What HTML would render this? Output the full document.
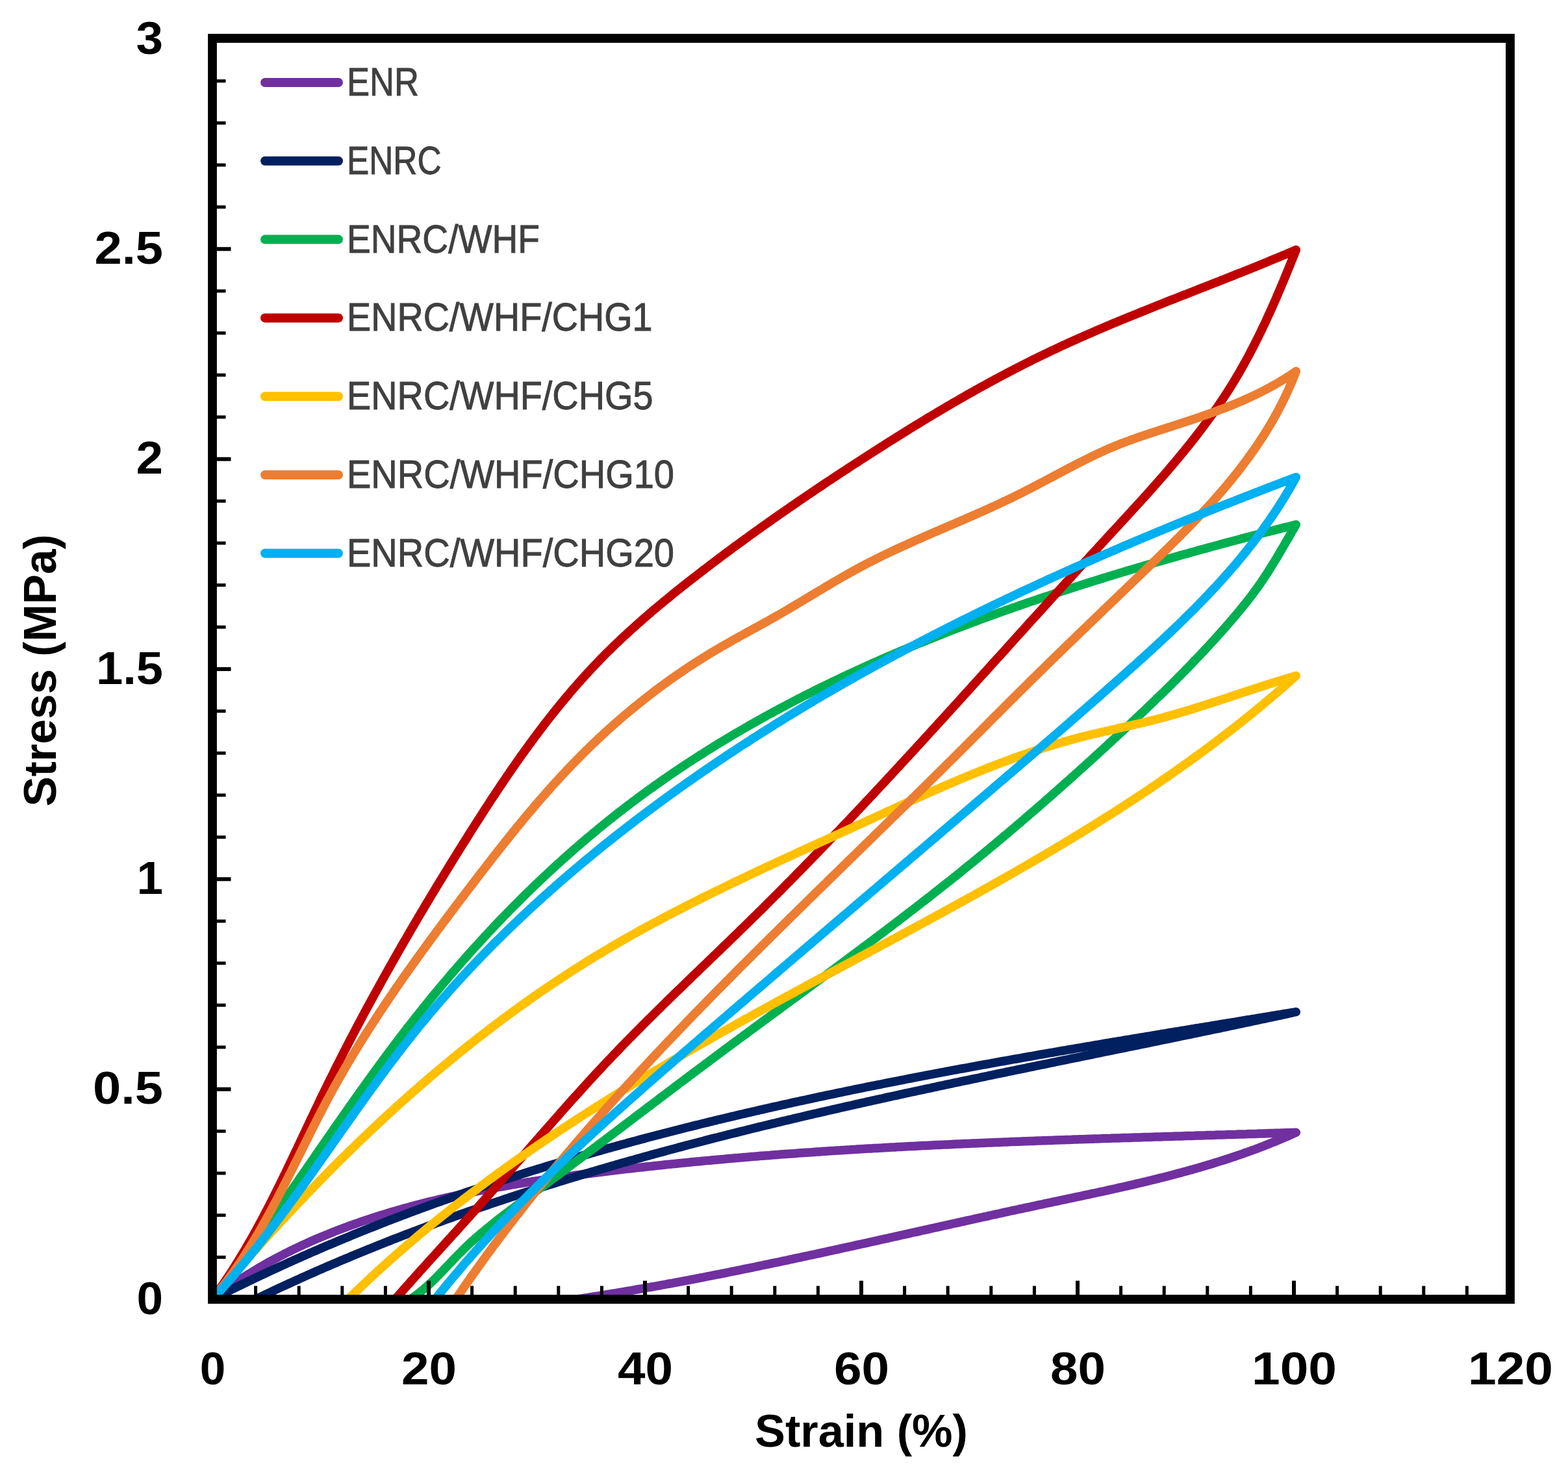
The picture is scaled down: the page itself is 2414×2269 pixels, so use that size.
<!DOCTYPE html>
<html><head><meta charset="utf-8"><title>Stress-strain</title>
<style>html,body{margin:0;padding:0;background:#fff;}svg{display:block;}</style>
</head><body>
<svg xmlns="http://www.w3.org/2000/svg" width="2414" height="2269" viewBox="0 0 2414 2269"><rect width="2414" height="2269" fill="#fff"/><defs><clipPath id="pc"><rect x="327" y="60" width="1998" height="1940"/></clipPath></defs><g clip-path="url(#pc)" fill="none" stroke-width="13.5" stroke-linejoin="round" stroke-linecap="round"><path d="M327.0,2000.0 L330.2,1997.5 L333.4,1995.1 L336.7,1992.6 L339.9,1990.2 L343.2,1987.9 L346.5,1985.5 L349.8,1983.2 L353.1,1980.9 L356.4,1978.6 L359.7,1976.3 L363.0,1974.0 L366.4,1971.8 L369.7,1969.6 L373.1,1967.4 L376.5,1965.3 L379.8,1963.1 L383.2,1961.0 L386.6,1958.9 L390.1,1956.8 L393.5,1954.8 L396.9,1952.7 L400.4,1950.7 L403.8,1948.7 L407.3,1946.7 L410.7,1944.7 L414.2,1942.8 L417.7,1940.9 L421.2,1939.0 L424.7,1937.1 L428.2,1935.2 L431.7,1933.4 L435.3,1931.6 L438.8,1929.7 L442.4,1928.0 L445.9,1926.2 L449.5,1924.4 L453.1,1922.7 L456.6,1921.0 L460.2,1919.3 L463.8,1917.6 L467.4,1915.9 L471.0,1914.3 L474.7,1912.6 L478.3,1911.0 L481.9,1909.4 L485.6,1907.8 L489.2,1906.3 L492.9,1904.7 L496.5,1903.2 L500.2,1901.7 L503.9,1900.2 L507.6,1898.7 L511.2,1897.2 L514.9,1895.7 L518.6,1894.3 L522.4,1892.9 L526.1,1891.5 L529.8,1890.1 L533.5,1888.7 L537.2,1887.3 L541.0,1886.0 L544.7,1884.6 L548.5,1883.3 L552.2,1882.0 L556.0,1880.7 L559.8,1879.4 L563.5,1878.1 L567.3,1876.9 L571.1,1875.6 L574.9,1874.4 L578.7,1873.2 L582.5,1872.0 L586.3,1870.8 L590.1,1869.6 L593.9,1868.4 L597.7,1867.3 L601.5,1866.1 L605.3,1865.0 L609.2,1863.9 L613.0,1862.8 L616.8,1861.7 L620.7,1860.6 L624.5,1859.5 L628.4,1858.5 L632.2,1857.4 L636.1,1856.4 L639.9,1855.4 L643.8,1854.4 L647.7,1853.4 L651.5,1852.4 L655.4,1851.4 L659.3,1850.4 L663.2,1849.4 L667.1,1848.5 L671.0,1847.6 L674.9,1846.6 L678.8,1845.7 L682.7,1844.8 L686.6,1843.9 L690.5,1843.0 L694.4,1842.1 L698.3,1841.3 L702.2,1840.4 L706.1,1839.6 L710.1,1838.7 L714.0,1837.9 L717.9,1837.1 L721.9,1836.3 L725.8,1835.5 L729.7,1834.7 L733.7,1833.9 L737.6,1833.1 L741.6,1832.3 L745.5,1831.6 L749.5,1830.8 L753.4,1830.1 L757.4,1829.3 L761.3,1828.6 L765.3,1827.9 L769.3,1827.2 L773.2,1826.5 L777.2,1825.8 L781.2,1825.1 L785.1,1824.4 L789.1,1823.7 L793.1,1823.0 L797.1,1822.4 L801.0,1821.7 L805.0,1821.1 L809.0,1820.4 L813.0,1819.8 L817.0,1819.2 L821.0,1818.5 L825.0,1817.9 L828.9,1817.3 L832.9,1816.7 L836.9,1816.1 L840.9,1815.5 L844.9,1814.9 L848.9,1814.3 L852.9,1813.8 L856.9,1813.2 L860.9,1812.6 L864.9,1812.1 L868.9,1811.5 L872.9,1811.0 L876.9,1810.4 L880.9,1809.9 L884.9,1809.3 L888.9,1808.8 L892.9,1808.3 L896.9,1807.8 L900.9,1807.2 L904.9,1806.7 L908.9,1806.2 L912.9,1805.7 L916.9,1805.2 L921.0,1804.7 L925.0,1804.2 L929.0,1803.7 L933.0,1803.2 L937.0,1802.7 L941.0,1802.3 L945.0,1801.8 L949.0,1801.3 L953.0,1800.8 L957.0,1800.4 L961.0,1799.9 L965.0,1799.4 L969.0,1799.0 L973.0,1798.5 L977.0,1798.0 L981.0,1797.6 L985.0,1797.1 L989.0,1796.7 L993.0,1796.3 L997.1,1795.8 L1001.1,1795.4 L1005.1,1795.0 L1009.1,1794.5 L1013.1,1794.1 L1017.1,1793.7 L1021.1,1793.3 L1025.1,1792.8 L1029.1,1792.4 L1033.1,1792.0 L1037.1,1791.6 L1041.1,1791.2 L1045.1,1790.8 L1049.1,1790.4 L1053.1,1790.0 L1057.1,1789.6 L1061.1,1789.2 L1065.1,1788.8 L1069.1,1788.4 L1073.1,1788.0 L1077.1,1787.7 L1081.1,1787.3 L1085.1,1786.9 L1089.1,1786.5 L1093.1,1786.2 L1097.2,1785.8 L1101.2,1785.4 L1105.2,1785.1 L1109.2,1784.7 L1113.2,1784.4 L1117.2,1784.0 L1121.2,1783.6 L1125.2,1783.3 L1129.2,1782.9 L1133.2,1782.6 L1137.2,1782.3 L1141.2,1781.9 L1145.2,1781.6 L1149.2,1781.3 L1153.2,1780.9 L1157.2,1780.6 L1161.2,1780.3 L1165.2,1779.9 L1169.2,1779.6 L1173.2,1779.3 L1177.2,1779.0 L1181.2,1778.7 L1185.2,1778.4 L1189.2,1778.0 L1193.2,1777.7 L1197.2,1777.4 L1201.2,1777.1 L1205.2,1776.8 L1209.2,1776.5 L1213.2,1776.2 L1217.2,1775.9 L1221.2,1775.7 L1225.2,1775.4 L1229.3,1775.1 L1233.3,1774.8 L1237.3,1774.5 L1241.3,1774.2 L1245.3,1773.9 L1249.3,1773.7 L1253.3,1773.4 L1257.3,1773.1 L1261.3,1772.9 L1265.3,1772.6 L1269.3,1772.3 L1273.3,1772.1 L1277.3,1771.8 L1281.3,1771.5 L1285.3,1771.3 L1289.3,1771.0 L1293.3,1770.8 L1297.3,1770.5 L1301.3,1770.3 L1305.3,1770.0 L1309.3,1769.8 L1313.3,1769.5 L1317.3,1769.3 L1321.3,1769.0 L1325.3,1768.8 L1329.3,1768.6 L1333.3,1768.3 L1337.3,1768.1 L1341.3,1767.9 L1345.3,1767.6 L1349.4,1767.4 L1353.4,1767.2 L1357.4,1767.0 L1361.4,1766.7 L1365.4,1766.5 L1369.4,1766.3 L1373.4,1766.1 L1377.4,1765.9 L1381.4,1765.6 L1385.4,1765.4 L1389.4,1765.2 L1393.4,1765.0 L1397.4,1764.8 L1401.4,1764.6 L1405.4,1764.4 L1409.4,1764.2 L1413.4,1764.0 L1417.4,1763.8 L1421.4,1763.6 L1425.4,1763.4 L1429.4,1763.2 L1433.4,1763.0 L1437.4,1762.8 L1441.4,1762.6 L1445.5,1762.4 L1449.5,1762.2 L1453.5,1762.1 L1457.5,1761.9 L1461.5,1761.7 L1465.5,1761.5 L1469.5,1761.3 L1473.5,1761.1 L1477.5,1761.0 L1481.5,1760.8 L1485.5,1760.6 L1489.5,1760.4 L1493.5,1760.3 L1497.5,1760.1 L1501.5,1759.9 L1505.5,1759.7 L1509.5,1759.6 L1513.6,1759.4 L1517.6,1759.2 L1521.6,1759.1 L1525.6,1758.9 L1529.6,1758.7 L1533.6,1758.6 L1537.6,1758.4 L1541.6,1758.2 L1545.6,1758.1 L1549.6,1757.9 L1553.6,1757.8 L1557.6,1757.6 L1561.6,1757.5 L1565.6,1757.3 L1569.7,1757.2 L1573.7,1757.0 L1577.7,1756.8 L1581.7,1756.7 L1585.7,1756.5 L1589.7,1756.4 L1593.7,1756.2 L1597.7,1756.1 L1601.7,1756.0 L1605.7,1755.8 L1609.7,1755.7 L1613.7,1755.5 L1617.8,1755.4 L1621.8,1755.2 L1625.8,1755.1 L1629.8,1755.0 L1633.8,1754.8 L1637.8,1754.7 L1641.8,1754.5 L1645.8,1754.4 L1649.8,1754.3 L1653.8,1754.1 L1657.9,1754.0 L1661.9,1753.8 L1665.9,1753.7 L1669.9,1753.6 L1673.9,1753.4 L1677.9,1753.3 L1681.9,1753.2 L1685.9,1753.0 L1689.9,1752.9 L1694.0,1752.8 L1698.0,1752.6 L1702.0,1752.5 L1706.0,1752.4 L1710.0,1752.3 L1714.0,1752.1 L1718.0,1752.0 L1722.0,1751.9 L1726.1,1751.7 L1730.1,1751.6 L1734.1,1751.5 L1738.1,1751.4 L1742.1,1751.2 L1746.1,1751.1 L1750.1,1751.0 L1754.1,1750.9 L1758.2,1750.7 L1762.2,1750.6 L1766.2,1750.5 L1770.2,1750.4 L1774.2,1750.2 L1778.2,1750.1 L1782.3,1750.0 L1786.3,1749.9 L1790.3,1749.7 L1794.3,1749.6 L1798.3,1749.5 L1802.3,1749.4 L1806.3,1749.2 L1810.4,1749.1 L1814.4,1749.0 L1818.4,1748.9 L1822.4,1748.7 L1826.4,1748.6 L1830.4,1748.5 L1834.5,1748.4 L1838.5,1748.3 L1842.5,1748.1 L1846.5,1748.0 L1850.5,1747.9 L1854.6,1747.8 L1858.6,1747.6 L1862.6,1747.5 L1866.6,1747.4 L1870.6,1747.3 L1874.6,1747.1 L1878.7,1747.0 L1882.7,1746.9 L1886.7,1746.8 L1890.7,1746.6 L1894.7,1746.5 L1898.8,1746.4 L1902.8,1746.3 L1906.8,1746.1 L1910.8,1746.0 L1914.9,1745.9 L1918.9,1745.8 L1922.9,1745.6 L1926.9,1745.5 L1930.9,1745.4 L1935.0,1745.3 L1939.0,1745.1 L1943.0,1745.0 L1947.0,1744.9 L1951.1,1744.7 L1955.1,1744.6 L1959.1,1744.5 L1963.1,1744.3 L1967.2,1744.2 L1971.2,1744.1 L1975.2,1743.9 L1979.2,1743.8 L1983.3,1743.7 L1987.3,1743.5 L1991.3,1743.4 L1995.3,1743.3 L1991.6,1744.9 L1987.9,1746.6 L1984.2,1748.2 L1980.5,1749.8 L1976.8,1751.4 L1973.1,1753.0 L1969.4,1754.5 L1965.7,1756.1 L1961.9,1757.6 L1958.2,1759.1 L1954.4,1760.6 L1950.7,1762.1 L1947.0,1763.6 L1943.2,1765.0 L1939.4,1766.4 L1935.7,1767.9 L1931.9,1769.3 L1928.1,1770.6 L1924.4,1772.0 L1920.6,1773.4 L1916.8,1774.7 L1913.0,1776.1 L1909.2,1777.4 L1905.4,1778.7 L1901.6,1780.0 L1897.8,1781.2 L1894.0,1782.5 L1890.2,1783.8 L1886.4,1785.0 L1882.6,1786.2 L1878.7,1787.4 L1874.9,1788.6 L1871.1,1789.8 L1867.3,1791.0 L1863.4,1792.2 L1859.6,1793.3 L1855.7,1794.5 L1851.9,1795.6 L1848.1,1796.7 L1844.2,1797.9 L1840.4,1799.0 L1836.5,1800.1 L1832.6,1801.1 L1828.8,1802.2 L1824.9,1803.3 L1821.0,1804.3 L1817.2,1805.4 L1813.3,1806.4 L1809.4,1807.4 L1805.5,1808.5 L1801.7,1809.5 L1797.8,1810.5 L1793.9,1811.5 L1790.0,1812.5 L1786.1,1813.4 L1782.2,1814.4 L1778.3,1815.4 L1774.4,1816.3 L1770.5,1817.3 L1766.6,1818.2 L1762.7,1819.2 L1758.8,1820.1 L1754.9,1821.0 L1751.0,1821.9 L1747.1,1822.9 L1743.2,1823.8 L1739.3,1824.7 L1735.3,1825.6 L1731.4,1826.5 L1727.5,1827.3 L1723.6,1828.2 L1719.7,1829.1 L1715.7,1830.0 L1711.8,1830.9 L1707.9,1831.7 L1704.0,1832.6 L1700.0,1833.5 L1696.1,1834.3 L1692.2,1835.2 L1688.3,1836.0 L1684.3,1836.9 L1680.4,1837.7 L1676.5,1838.6 L1672.5,1839.4 L1668.6,1840.2 L1664.7,1841.1 L1660.7,1841.9 L1656.8,1842.7 L1652.8,1843.6 L1648.9,1844.4 L1645.0,1845.2 L1641.0,1846.1 L1637.1,1846.9 L1633.2,1847.7 L1629.2,1848.6 L1625.3,1849.4 L1621.3,1850.2 L1617.4,1851.1 L1613.5,1851.9 L1609.5,1852.7 L1605.6,1853.6 L1601.6,1854.4 L1597.7,1855.2 L1593.8,1856.1 L1589.8,1856.9 L1585.9,1857.8 L1582.0,1858.6 L1578.0,1859.4 L1574.1,1860.3 L1570.1,1861.1 L1566.2,1862.0 L1562.3,1862.8 L1558.3,1863.7 L1554.4,1864.5 L1550.5,1865.4 L1546.5,1866.2 L1542.6,1867.1 L1538.7,1868.0 L1534.7,1868.8 L1530.8,1869.7 L1526.9,1870.5 L1522.9,1871.4 L1519.0,1872.3 L1515.1,1873.1 L1511.1,1874.0 L1507.2,1874.9 L1503.3,1875.7 L1499.3,1876.6 L1495.4,1877.5 L1491.5,1878.3 L1487.5,1879.2 L1483.6,1880.1 L1479.7,1880.9 L1475.7,1881.8 L1471.8,1882.7 L1467.9,1883.5 L1463.9,1884.4 L1460.0,1885.3 L1456.1,1886.2 L1452.1,1887.0 L1448.2,1887.9 L1444.3,1888.8 L1440.4,1889.7 L1436.4,1890.5 L1432.5,1891.4 L1428.6,1892.3 L1424.6,1893.2 L1420.7,1894.0 L1416.8,1894.9 L1412.8,1895.8 L1408.9,1896.7 L1405.0,1897.5 L1401.0,1898.4 L1397.1,1899.3 L1393.2,1900.2 L1389.3,1901.0 L1385.3,1901.9 L1381.4,1902.8 L1377.5,1903.7 L1373.5,1904.5 L1369.6,1905.4 L1365.7,1906.3 L1361.7,1907.1 L1357.8,1908.0 L1353.9,1908.9 L1349.9,1909.8 L1346.0,1910.6 L1342.1,1911.5 L1338.1,1912.4 L1334.2,1913.3 L1330.3,1914.1 L1326.4,1915.0 L1322.4,1915.9 L1318.5,1916.7 L1314.6,1917.6 L1310.6,1918.5 L1306.7,1919.3 L1302.8,1920.2 L1298.8,1921.0 L1294.9,1921.9 L1291.0,1922.8 L1287.0,1923.6 L1283.1,1924.5 L1279.2,1925.4 L1275.2,1926.2 L1271.3,1927.1 L1267.4,1927.9 L1263.4,1928.8 L1259.5,1929.6 L1255.6,1930.5 L1251.6,1931.3 L1247.7,1932.2 L1243.8,1933.0 L1239.8,1933.9 L1235.9,1934.7 L1232.0,1935.6 L1228.0,1936.4 L1224.1,1937.2 L1220.1,1938.1 L1216.2,1938.9 L1212.3,1939.8 L1208.3,1940.6 L1204.4,1941.4 L1200.5,1942.3 L1196.5,1943.1 L1192.6,1943.9 L1188.6,1944.7 L1184.7,1945.6 L1180.8,1946.4 L1176.8,1947.2 L1172.9,1948.0 L1168.9,1948.9 L1165.0,1949.7 L1161.1,1950.5 L1157.1,1951.3 L1153.2,1952.1 L1149.2,1952.9 L1145.3,1953.7 L1141.4,1954.5 L1137.4,1955.3 L1133.5,1956.1 L1129.5,1956.9 L1125.6,1957.7 L1121.6,1958.5 L1117.7,1959.3 L1113.8,1960.1 L1109.8,1960.9 L1105.9,1961.6 L1101.9,1962.4 L1098.0,1963.2 L1094.0,1964.0 L1090.1,1964.7 L1086.1,1965.5 L1082.2,1966.3 L1078.2,1967.0 L1074.3,1967.8 L1070.3,1968.6 L1066.4,1969.3 L1062.4,1970.1 L1058.5,1970.8 L1054.5,1971.6 L1050.6,1972.3 L1046.6,1973.1 L1042.7,1973.8 L1038.7,1974.5 L1034.8,1975.3 L1030.8,1976.0 L1026.9,1976.7 L1022.9,1977.5 L1019.0,1978.2 L1015.0,1978.9 L1011.0,1979.6 L1007.1,1980.3 L1003.1,1981.0 L999.2,1981.7 L995.2,1982.4 L991.3,1983.1 L987.3,1983.8 L983.3,1984.5 L979.4,1985.2 L975.4,1985.9 L971.4,1986.6 L967.5,1987.2 L963.5,1987.9 L959.6,1988.6 L955.6,1989.3 L951.6,1989.9 L947.7,1990.6 L943.7,1991.2 L939.7,1991.9 L935.8,1992.5 L931.8,1993.2 L927.8,1993.8 L923.9,1994.5 L919.9,1995.1 L915.9,1995.7 L911.9,1996.3 L908.0,1997.0 L904.0,1997.6 L900.0,1998.2 L896.1,1998.8 L892.1,1999.4 L888.1,2000.0" stroke="#7030A0"/><path d="M327.0,2000.0 L330.6,1998.2 L334.2,1996.3 L337.8,1994.5 L341.4,1992.7 L345.0,1990.9 L348.6,1989.1 L352.2,1987.3 L355.8,1985.5 L359.4,1983.7 L363.0,1981.9 L366.6,1980.2 L370.3,1978.4 L373.9,1976.6 L377.5,1974.9 L381.1,1973.1 L384.8,1971.4 L388.4,1969.6 L392.0,1967.9 L395.6,1966.2 L399.3,1964.4 L402.9,1962.7 L406.6,1961.0 L410.2,1959.3 L413.8,1957.6 L417.5,1955.9 L421.1,1954.2 L424.8,1952.5 L428.4,1950.8 L432.1,1949.2 L435.7,1947.5 L439.4,1945.8 L443.0,1944.2 L446.7,1942.5 L450.4,1940.9 L454.0,1939.2 L457.7,1937.6 L461.4,1936.0 L465.0,1934.3 L468.7,1932.7 L472.4,1931.1 L476.0,1929.5 L479.7,1927.9 L483.4,1926.3 L487.1,1924.7 L490.8,1923.1 L494.4,1921.5 L498.1,1919.9 L501.8,1918.3 L505.5,1916.8 L509.2,1915.2 L512.9,1913.7 L516.6,1912.1 L520.3,1910.5 L524.0,1909.0 L527.7,1907.5 L531.4,1905.9 L535.1,1904.4 L538.8,1902.9 L542.5,1901.3 L546.2,1899.8 L549.9,1898.3 L553.6,1896.8 L557.4,1895.3 L561.1,1893.8 L564.8,1892.3 L568.5,1890.8 L572.2,1889.4 L576.0,1887.9 L579.7,1886.4 L583.4,1885.0 L587.1,1883.5 L590.9,1882.0 L594.6,1880.6 L598.3,1879.1 L602.1,1877.7 L605.8,1876.3 L609.5,1874.8 L613.3,1873.4 L617.0,1872.0 L620.8,1870.5 L624.5,1869.1 L628.3,1867.7 L632.0,1866.3 L635.8,1864.9 L639.5,1863.5 L643.3,1862.1 L647.0,1860.7 L650.8,1859.4 L654.5,1858.0 L658.3,1856.6 L662.1,1855.2 L665.8,1853.9 L669.6,1852.5 L673.3,1851.2 L677.1,1849.8 L680.9,1848.5 L684.7,1847.1 L688.4,1845.8 L692.2,1844.5 L696.0,1843.1 L699.8,1841.8 L703.5,1840.5 L707.3,1839.2 L711.1,1837.9 L714.9,1836.5 L718.7,1835.2 L722.4,1833.9 L726.2,1832.7 L730.0,1831.4 L733.8,1830.1 L737.6,1828.8 L741.4,1827.5 L745.2,1826.2 L749.0,1825.0 L752.8,1823.7 L756.6,1822.5 L760.4,1821.2 L764.2,1819.9 L768.0,1818.7 L771.8,1817.5 L775.6,1816.2 L779.4,1815.0 L783.2,1813.7 L787.0,1812.5 L790.8,1811.3 L794.7,1810.1 L798.5,1808.9 L802.3,1807.6 L806.1,1806.4 L809.9,1805.2 L813.7,1804.0 L817.6,1802.8 L821.4,1801.6 L825.2,1800.5 L829.0,1799.3 L832.9,1798.1 L836.7,1796.9 L840.5,1795.7 L844.3,1794.6 L848.2,1793.4 L852.0,1792.3 L855.8,1791.1 L859.7,1789.9 L863.5,1788.8 L867.3,1787.6 L871.2,1786.5 L875.0,1785.4 L878.9,1784.2 L882.7,1783.1 L886.6,1782.0 L890.4,1780.8 L894.2,1779.7 L898.1,1778.6 L901.9,1777.5 L905.8,1776.4 L909.6,1775.3 L913.5,1774.2 L917.3,1773.1 L921.2,1772.0 L925.1,1770.9 L928.9,1769.8 L932.8,1768.7 L936.6,1767.6 L940.5,1766.6 L944.4,1765.5 L948.2,1764.4 L952.1,1763.4 L955.9,1762.3 L959.8,1761.2 L963.7,1760.2 L967.5,1759.1 L971.4,1758.1 L975.3,1757.0 L979.2,1756.0 L983.0,1754.9 L986.9,1753.9 L990.8,1752.9 L994.6,1751.8 L998.5,1750.8 L1002.4,1749.8 L1006.3,1748.8 L1010.2,1747.8 L1014.0,1746.7 L1017.9,1745.7 L1021.8,1744.7 L1025.7,1743.7 L1029.6,1742.7 L1033.5,1741.7 L1037.3,1740.7 L1041.2,1739.7 L1045.1,1738.7 L1049.0,1737.8 L1052.9,1736.8 L1056.8,1735.8 L1060.7,1734.8 L1064.6,1733.9 L1068.5,1732.9 L1072.4,1731.9 L1076.3,1731.0 L1080.1,1730.0 L1084.0,1729.0 L1087.9,1728.1 L1091.8,1727.1 L1095.7,1726.2 L1099.6,1725.2 L1103.5,1724.3 L1107.4,1723.3 L1111.4,1722.4 L1115.3,1721.5 L1119.2,1720.5 L1123.1,1719.6 L1127.0,1718.7 L1130.9,1717.8 L1134.8,1716.8 L1138.7,1715.9 L1142.6,1715.0 L1146.5,1714.1 L1150.4,1713.2 L1154.3,1712.3 L1158.3,1711.4 L1162.2,1710.5 L1166.1,1709.6 L1170.0,1708.7 L1173.9,1707.8 L1177.8,1706.9 L1181.8,1706.0 L1185.7,1705.1 L1189.6,1704.2 L1193.5,1703.3 L1197.4,1702.5 L1201.4,1701.6 L1205.3,1700.7 L1209.2,1699.8 L1213.1,1699.0 L1217.0,1698.1 L1221.0,1697.2 L1224.9,1696.4 L1228.8,1695.5 L1232.7,1694.7 L1236.7,1693.8 L1240.6,1693.0 L1244.5,1692.1 L1248.5,1691.3 L1252.4,1690.4 L1256.3,1689.6 L1260.3,1688.7 L1264.2,1687.9 L1268.1,1687.1 L1272.0,1686.2 L1276.0,1685.4 L1279.9,1684.6 L1283.8,1683.8 L1287.8,1682.9 L1291.7,1682.1 L1295.7,1681.3 L1299.6,1680.5 L1303.5,1679.7 L1307.5,1678.8 L1311.4,1678.0 L1315.3,1677.2 L1319.3,1676.4 L1323.2,1675.6 L1327.2,1674.8 L1331.1,1674.0 L1335.1,1673.2 L1339.0,1672.4 L1342.9,1671.6 L1346.9,1670.8 L1350.8,1670.0 L1354.8,1669.3 L1358.7,1668.5 L1362.7,1667.7 L1366.6,1666.9 L1370.5,1666.1 L1374.5,1665.3 L1378.4,1664.6 L1382.4,1663.8 L1386.3,1663.0 L1390.3,1662.3 L1394.2,1661.5 L1398.2,1660.7 L1402.1,1660.0 L1406.1,1659.2 L1410.0,1658.4 L1414.0,1657.7 L1417.9,1656.9 L1421.9,1656.2 L1425.8,1655.4 L1429.8,1654.6 L1433.7,1653.9 L1437.7,1653.1 L1441.6,1652.4 L1445.6,1651.7 L1449.5,1650.9 L1453.5,1650.2 L1457.5,1649.4 L1461.4,1648.7 L1465.4,1647.9 L1469.3,1647.2 L1473.3,1646.5 L1477.2,1645.7 L1481.2,1645.0 L1485.1,1644.3 L1489.1,1643.6 L1493.1,1642.8 L1497.0,1642.1 L1501.0,1641.4 L1504.9,1640.7 L1508.9,1639.9 L1512.8,1639.2 L1516.8,1638.5 L1520.8,1637.8 L1524.7,1637.1 L1528.7,1636.3 L1532.6,1635.6 L1536.6,1634.9 L1540.5,1634.2 L1544.5,1633.5 L1548.5,1632.8 L1552.4,1632.1 L1556.4,1631.4 L1560.3,1630.7 L1564.3,1630.0 L1568.3,1629.3 L1572.2,1628.6 L1576.2,1627.9 L1580.1,1627.2 L1584.1,1626.5 L1588.1,1625.8 L1592.0,1625.1 L1596.0,1624.4 L1599.9,1623.7 L1603.9,1623.0 L1607.9,1622.3 L1611.8,1621.6 L1615.8,1620.9 L1619.7,1620.3 L1623.7,1619.6 L1627.7,1618.9 L1631.6,1618.2 L1635.6,1617.5 L1639.6,1616.8 L1643.5,1616.2 L1647.5,1615.5 L1651.4,1614.8 L1655.4,1614.1 L1659.4,1613.4 L1663.3,1612.8 L1667.3,1612.1 L1671.2,1611.4 L1675.2,1610.7 L1679.2,1610.1 L1683.1,1609.4 L1687.1,1608.7 L1691.0,1608.1 L1695.0,1607.4 L1699.0,1606.7 L1702.9,1606.0 L1706.9,1605.4 L1710.8,1604.7 L1714.8,1604.0 L1718.8,1603.4 L1722.7,1602.7 L1726.7,1602.1 L1730.6,1601.4 L1734.6,1600.7 L1738.6,1600.1 L1742.5,1599.4 L1746.5,1598.7 L1750.4,1598.1 L1754.4,1597.4 L1758.4,1596.8 L1762.3,1596.1 L1766.3,1595.4 L1770.2,1594.8 L1774.2,1594.1 L1778.2,1593.5 L1782.1,1592.8 L1786.1,1592.2 L1790.0,1591.5 L1794.0,1590.9 L1797.9,1590.2 L1801.9,1589.5 L1805.8,1588.9 L1809.8,1588.2 L1813.8,1587.6 L1817.7,1586.9 L1821.7,1586.3 L1825.6,1585.6 L1829.6,1585.0 L1833.5,1584.3 L1837.5,1583.7 L1841.4,1583.0 L1845.4,1582.4 L1849.3,1581.7 L1853.3,1581.1 L1857.3,1580.4 L1861.2,1579.8 L1865.2,1579.1 L1869.1,1578.5 L1873.1,1577.8 L1877.0,1577.2 L1881.0,1576.5 L1884.9,1575.9 L1888.9,1575.2 L1892.8,1574.6 L1896.8,1573.9 L1900.7,1573.3 L1904.7,1572.6 L1908.6,1572.0 L1912.5,1571.3 L1916.5,1570.7 L1920.4,1570.0 L1924.4,1569.4 L1928.3,1568.7 L1932.3,1568.1 L1936.2,1567.4 L1940.2,1566.8 L1944.1,1566.1 L1948.1,1565.5 L1952.0,1564.8 L1955.9,1564.2 L1959.9,1563.5 L1963.8,1562.9 L1967.8,1562.2 L1971.7,1561.6 L1975.6,1560.9 L1979.6,1560.3 L1983.5,1559.6 L1987.5,1559.0 L1991.4,1558.3 L1995.3,1557.7 L1991.4,1558.5 L1987.5,1559.4 L1983.6,1560.2 L1979.7,1561.1 L1975.8,1561.9 L1971.8,1562.8 L1967.9,1563.6 L1964.0,1564.5 L1960.1,1565.3 L1956.2,1566.1 L1952.3,1567.0 L1948.3,1567.8 L1944.4,1568.7 L1940.5,1569.5 L1936.6,1570.3 L1932.7,1571.2 L1928.7,1572.0 L1924.8,1572.8 L1920.9,1573.7 L1917.0,1574.5 L1913.0,1575.3 L1909.1,1576.2 L1905.2,1577.0 L1901.3,1577.8 L1897.3,1578.6 L1893.4,1579.5 L1889.5,1580.3 L1885.6,1581.1 L1881.6,1581.9 L1877.7,1582.8 L1873.8,1583.6 L1869.9,1584.4 L1865.9,1585.2 L1862.0,1586.1 L1858.1,1586.9 L1854.1,1587.7 L1850.2,1588.5 L1846.3,1589.3 L1842.4,1590.1 L1838.4,1591.0 L1834.5,1591.8 L1830.6,1592.6 L1826.6,1593.4 L1822.7,1594.2 L1818.8,1595.0 L1814.8,1595.8 L1810.9,1596.7 L1807.0,1597.5 L1803.0,1598.3 L1799.1,1599.1 L1795.2,1599.9 L1791.2,1600.7 L1787.3,1601.5 L1783.4,1602.3 L1779.4,1603.1 L1775.5,1603.9 L1771.5,1604.7 L1767.6,1605.6 L1763.7,1606.4 L1759.7,1607.2 L1755.8,1608.0 L1751.9,1608.8 L1747.9,1609.6 L1744.0,1610.4 L1740.1,1611.2 L1736.1,1612.0 L1732.2,1612.8 L1728.2,1613.6 L1724.3,1614.4 L1720.4,1615.2 L1716.4,1616.0 L1712.5,1616.8 L1708.5,1617.6 L1704.6,1618.4 L1700.7,1619.2 L1696.7,1620.0 L1692.8,1620.9 L1688.8,1621.7 L1684.9,1622.5 L1681.0,1623.3 L1677.0,1624.1 L1673.1,1624.9 L1669.1,1625.7 L1665.2,1626.5 L1661.3,1627.3 L1657.3,1628.1 L1653.4,1628.9 L1649.4,1629.7 L1645.5,1630.5 L1641.6,1631.3 L1637.6,1632.1 L1633.7,1632.9 L1629.7,1633.7 L1625.8,1634.5 L1621.9,1635.4 L1617.9,1636.2 L1614.0,1637.0 L1610.0,1637.8 L1606.1,1638.6 L1602.2,1639.4 L1598.2,1640.2 L1594.3,1641.0 L1590.3,1641.8 L1586.4,1642.6 L1582.5,1643.4 L1578.5,1644.3 L1574.6,1645.1 L1570.6,1645.9 L1566.7,1646.7 L1562.7,1647.5 L1558.8,1648.3 L1554.9,1649.1 L1550.9,1649.9 L1547.0,1650.8 L1543.0,1651.6 L1539.1,1652.4 L1535.2,1653.2 L1531.2,1654.0 L1527.3,1654.9 L1523.4,1655.7 L1519.4,1656.5 L1515.5,1657.3 L1511.5,1658.1 L1507.6,1659.0 L1503.7,1659.8 L1499.7,1660.6 L1495.8,1661.4 L1491.8,1662.3 L1487.9,1663.1 L1484.0,1663.9 L1480.0,1664.7 L1476.1,1665.6 L1472.2,1666.4 L1468.2,1667.2 L1464.3,1668.1 L1460.3,1668.9 L1456.4,1669.7 L1452.5,1670.6 L1448.5,1671.4 L1444.6,1672.2 L1440.7,1673.1 L1436.7,1673.9 L1432.8,1674.8 L1428.9,1675.6 L1424.9,1676.4 L1421.0,1677.3 L1417.1,1678.1 L1413.1,1679.0 L1409.2,1679.8 L1405.3,1680.7 L1401.3,1681.5 L1397.4,1682.4 L1393.5,1683.2 L1389.5,1684.1 L1385.6,1684.9 L1381.7,1685.8 L1377.8,1686.7 L1373.8,1687.5 L1369.9,1688.4 L1366.0,1689.2 L1362.0,1690.1 L1358.1,1691.0 L1354.2,1691.8 L1350.3,1692.7 L1346.3,1693.6 L1342.4,1694.4 L1338.5,1695.3 L1334.5,1696.2 L1330.6,1697.1 L1326.7,1697.9 L1322.8,1698.8 L1318.9,1699.7 L1314.9,1700.6 L1311.0,1701.5 L1307.1,1702.3 L1303.2,1703.2 L1299.2,1704.1 L1295.3,1705.0 L1291.4,1705.9 L1287.5,1706.8 L1283.6,1707.7 L1279.6,1708.6 L1275.7,1709.5 L1271.8,1710.4 L1267.9,1711.3 L1264.0,1712.2 L1260.1,1713.1 L1256.1,1714.0 L1252.2,1714.9 L1248.3,1715.8 L1244.4,1716.7 L1240.5,1717.6 L1236.6,1718.5 L1232.7,1719.5 L1228.7,1720.4 L1224.8,1721.3 L1220.9,1722.2 L1217.0,1723.2 L1213.1,1724.1 L1209.2,1725.0 L1205.3,1725.9 L1201.4,1726.9 L1197.5,1727.8 L1193.6,1728.8 L1189.7,1729.7 L1185.8,1730.6 L1181.9,1731.6 L1178.0,1732.5 L1174.1,1733.5 L1170.1,1734.4 L1166.2,1735.4 L1162.3,1736.3 L1158.4,1737.3 L1154.5,1738.3 L1150.6,1739.2 L1146.8,1740.2 L1142.9,1741.2 L1139.0,1742.1 L1135.1,1743.1 L1131.2,1744.1 L1127.3,1745.0 L1123.4,1746.0 L1119.5,1747.0 L1115.6,1748.0 L1111.7,1749.0 L1107.8,1750.0 L1103.9,1751.0 L1100.0,1751.9 L1096.2,1752.9 L1092.3,1753.9 L1088.4,1754.9 L1084.5,1755.9 L1080.6,1757.0 L1076.7,1758.0 L1072.8,1759.0 L1069.0,1760.0 L1065.1,1761.0 L1061.2,1762.0 L1057.3,1763.0 L1053.4,1764.1 L1049.6,1765.1 L1045.7,1766.1 L1041.8,1767.2 L1037.9,1768.2 L1034.1,1769.2 L1030.2,1770.3 L1026.3,1771.3 L1022.4,1772.4 L1018.6,1773.4 L1014.7,1774.5 L1010.8,1775.5 L1007.0,1776.6 L1003.1,1777.6 L999.2,1778.7 L995.4,1779.8 L991.5,1780.8 L987.6,1781.9 L983.8,1783.0 L979.9,1784.1 L976.1,1785.2 L972.2,1786.2 L968.3,1787.3 L964.5,1788.4 L960.6,1789.5 L956.8,1790.6 L952.9,1791.7 L949.1,1792.8 L945.2,1793.9 L941.4,1795.0 L937.5,1796.2 L933.7,1797.3 L929.8,1798.4 L926.0,1799.5 L922.1,1800.6 L918.3,1801.8 L914.4,1802.9 L910.6,1804.0 L906.8,1805.2 L902.9,1806.3 L899.1,1807.5 L895.2,1808.6 L891.4,1809.8 L887.6,1810.9 L883.7,1812.1 L879.9,1813.2 L876.1,1814.4 L872.2,1815.6 L868.4,1816.8 L864.6,1817.9 L860.8,1819.1 L856.9,1820.3 L853.1,1821.5 L849.3,1822.7 L845.5,1823.9 L841.6,1825.1 L837.8,1826.3 L834.0,1827.5 L830.2,1828.7 L826.4,1829.9 L822.5,1831.1 L818.7,1832.3 L814.9,1833.6 L811.1,1834.8 L807.3,1836.0 L803.5,1837.3 L799.7,1838.5 L795.9,1839.7 L792.1,1841.0 L788.3,1842.2 L784.5,1843.5 L780.7,1844.8 L776.9,1846.0 L773.1,1847.3 L769.3,1848.6 L765.5,1849.8 L761.7,1851.1 L757.9,1852.4 L754.1,1853.7 L750.3,1855.0 L746.5,1856.3 L742.7,1857.6 L738.9,1858.9 L735.1,1860.2 L731.4,1861.5 L727.6,1862.8 L723.8,1864.1 L720.0,1865.4 L716.2,1866.8 L712.5,1868.1 L708.7,1869.4 L704.9,1870.8 L701.1,1872.1 L697.4,1873.5 L693.6,1874.8 L689.8,1876.2 L686.1,1877.5 L682.3,1878.9 L678.5,1880.3 L674.8,1881.6 L671.0,1883.0 L667.3,1884.4 L663.5,1885.8 L659.7,1887.2 L656.0,1888.6 L652.2,1890.0 L648.5,1891.4 L644.7,1892.8 L641.0,1894.2 L637.2,1895.6 L633.5,1897.0 L629.7,1898.5 L626.0,1899.9 L622.3,1901.3 L618.5,1902.8 L614.8,1904.2 L611.0,1905.7 L607.3,1907.1 L603.6,1908.6 L599.8,1910.1 L596.1,1911.5 L592.4,1913.0 L588.7,1914.5 L584.9,1916.0 L581.2,1917.4 L577.5,1918.9 L573.8,1920.4 L570.1,1921.9 L566.3,1923.4 L562.6,1925.0 L558.9,1926.5 L555.2,1928.0 L551.5,1929.5 L547.8,1931.0 L544.1,1932.6 L540.4,1934.1 L536.7,1935.7 L533.0,1937.2 L529.3,1938.8 L525.6,1940.3 L521.9,1941.9 L518.2,1943.5 L514.5,1945.1 L510.8,1946.6 L507.1,1948.2 L503.4,1949.8 L499.7,1951.4 L496.0,1953.0 L492.3,1954.6 L488.7,1956.2 L485.0,1957.8 L481.3,1959.5 L477.6,1961.1 L474.0,1962.7 L470.3,1964.4 L466.6,1966.0 L462.9,1967.7 L459.3,1969.3 L455.6,1971.0 L452.0,1972.6 L448.3,1974.3 L444.6,1976.0 L441.0,1977.7 L437.3,1979.3 L433.7,1981.0 L430.0,1982.7 L426.4,1984.4 L422.7,1986.1 L419.1,1987.9 L415.4,1989.6 L411.8,1991.3 L408.1,1993.0 L404.5,1994.8 L400.9,1996.5 L397.2,1998.2 L393.6,2000.0" stroke="#002060"/><path d="M327.0,2000.0 L329.4,1996.9 L331.9,1993.7 L334.3,1990.6 L336.7,1987.4 L339.2,1984.3 L341.6,1981.1 L344.0,1978.0 L346.4,1974.8 L348.8,1971.6 L351.2,1968.4 L353.6,1965.3 L356.0,1962.1 L358.4,1958.9 L360.7,1955.7 L363.1,1952.5 L365.5,1949.3 L367.9,1946.1 L370.2,1942.9 L372.6,1939.7 L374.9,1936.4 L377.3,1933.2 L379.6,1930.0 L382.0,1926.8 L384.3,1923.5 L386.7,1920.3 L389.0,1917.1 L391.4,1913.8 L393.7,1910.6 L396.0,1907.3 L398.3,1904.1 L400.7,1900.8 L403.0,1897.6 L405.3,1894.3 L407.6,1891.1 L409.9,1887.8 L412.3,1884.5 L414.6,1881.3 L416.9,1878.0 L419.2,1874.7 L421.5,1871.5 L423.8,1868.2 L426.1,1864.9 L428.4,1861.6 L430.7,1858.3 L433.0,1855.0 L435.3,1851.8 L437.6,1848.5 L439.9,1845.2 L442.1,1841.9 L444.4,1838.6 L446.7,1835.3 L449.0,1832.0 L451.3,1828.7 L453.6,1825.4 L455.9,1822.1 L458.2,1818.8 L460.4,1815.5 L462.7,1812.2 L465.0,1808.9 L467.3,1805.6 L469.6,1802.3 L471.9,1799.0 L474.1,1795.7 L476.4,1792.4 L478.7,1789.1 L481.0,1785.8 L483.3,1782.5 L485.6,1779.1 L487.8,1775.8 L490.1,1772.5 L492.4,1769.2 L494.7,1765.9 L497.0,1762.6 L499.3,1759.3 L501.6,1756.0 L503.9,1752.7 L506.2,1749.4 L508.5,1746.1 L510.8,1742.8 L513.0,1739.5 L515.3,1736.2 L517.6,1732.9 L519.9,1729.6 L522.3,1726.3 L524.6,1723.0 L526.9,1719.7 L529.2,1716.4 L531.5,1713.1 L533.8,1709.8 L536.1,1706.5 L538.4,1703.2 L540.8,1699.9 L543.1,1696.6 L545.4,1693.3 L547.7,1690.0 L550.1,1686.8 L552.4,1683.5 L554.7,1680.2 L557.1,1676.9 L559.4,1673.7 L561.8,1670.4 L564.1,1667.1 L566.5,1663.8 L568.8,1660.6 L571.2,1657.3 L573.5,1654.1 L575.9,1650.8 L578.3,1647.5 L580.7,1644.3 L583.0,1641.0 L585.4,1637.8 L587.8,1634.6 L590.2,1631.3 L592.6,1628.1 L595.0,1624.8 L597.4,1621.6 L599.8,1618.4 L602.2,1615.2 L604.6,1611.9 L607.1,1608.7 L609.5,1605.5 L611.9,1602.3 L614.4,1599.1 L616.8,1595.9 L619.3,1592.7 L621.7,1589.5 L624.2,1586.3 L626.6,1583.1 L629.1,1580.0 L631.6,1576.8 L634.1,1573.6 L636.6,1570.4 L639.1,1567.3 L641.5,1564.1 L644.1,1561.0 L646.6,1557.8 L649.1,1554.7 L651.6,1551.5 L654.1,1548.4 L656.7,1545.3 L659.2,1542.1 L661.7,1539.0 L664.3,1535.9 L666.8,1532.8 L669.4,1529.7 L672.0,1526.6 L674.5,1523.5 L677.1,1520.4 L679.7,1517.3 L682.3,1514.2 L684.9,1511.2 L687.5,1508.1 L690.1,1505.0 L692.7,1501.9 L695.3,1498.9 L697.9,1495.8 L700.6,1492.8 L703.2,1489.8 L705.8,1486.7 L708.5,1483.7 L711.1,1480.7 L713.8,1477.6 L716.5,1474.6 L719.1,1471.6 L721.8,1468.6 L724.5,1465.6 L727.2,1462.6 L729.9,1459.6 L732.6,1456.7 L735.3,1453.7 L738.0,1450.7 L740.7,1447.7 L743.4,1444.8 L746.1,1441.8 L748.9,1438.9 L751.6,1436.0 L754.3,1433.0 L757.1,1430.1 L759.8,1427.2 L762.6,1424.2 L765.4,1421.3 L768.1,1418.4 L770.9,1415.5 L773.7,1412.6 L776.5,1409.8 L779.3,1406.9 L782.1,1404.0 L784.9,1401.1 L787.7,1398.3 L790.5,1395.4 L793.4,1392.6 L796.2,1389.7 L799.0,1386.9 L801.9,1384.1 L804.7,1381.2 L807.6,1378.4 L810.4,1375.6 L813.3,1372.8 L816.2,1370.0 L819.0,1367.2 L821.9,1364.4 L824.8,1361.7 L827.7,1358.9 L830.6,1356.1 L833.5,1353.4 L836.4,1350.6 L839.3,1347.9 L842.3,1345.2 L845.2,1342.4 L848.1,1339.7 L851.1,1337.0 L854.0,1334.3 L857.0,1331.6 L859.9,1328.9 L862.9,1326.2 L865.9,1323.5 L868.8,1320.9 L871.8,1318.2 L874.8,1315.6 L877.8,1312.9 L880.8,1310.3 L883.8,1307.6 L886.8,1305.0 L889.9,1302.4 L892.9,1299.8 L895.9,1297.2 L898.9,1294.6 L902.0,1292.0 L905.0,1289.4 L908.1,1286.8 L911.2,1284.3 L914.2,1281.7 L917.3,1279.2 L920.4,1276.6 L923.5,1274.1 L926.6,1271.6 L929.6,1269.0 L932.8,1266.5 L935.9,1264.0 L939.0,1261.5 L942.1,1259.1 L945.2,1256.6 L948.4,1254.1 L951.5,1251.6 L954.6,1249.2 L957.8,1246.8 L961.0,1244.3 L964.1,1241.9 L967.3,1239.5 L970.5,1237.1 L973.6,1234.7 L976.8,1232.3 L980.0,1229.9 L983.2,1227.5 L986.4,1225.1 L989.6,1222.8 L992.9,1220.4 L996.1,1218.1 L999.3,1215.7 L1002.5,1213.4 L1005.8,1211.1 L1009.0,1208.8 L1012.3,1206.5 L1015.5,1204.2 L1018.8,1201.9 L1022.1,1199.6 L1025.4,1197.3 L1028.6,1195.1 L1031.9,1192.8 L1035.2,1190.6 L1038.5,1188.3 L1041.8,1186.1 L1045.1,1183.9 L1048.4,1181.6 L1051.8,1179.4 L1055.1,1177.2 L1058.4,1175.0 L1061.7,1172.9 L1065.1,1170.7 L1068.4,1168.5 L1071.8,1166.3 L1075.1,1164.2 L1078.5,1162.0 L1081.9,1159.9 L1085.2,1157.8 L1088.6,1155.6 L1092.0,1153.5 L1095.4,1151.4 L1098.8,1149.3 L1102.2,1147.2 L1105.6,1145.1 L1109.0,1143.1 L1112.4,1141.0 L1115.8,1138.9 L1119.2,1136.9 L1122.6,1134.8 L1126.1,1132.8 L1129.5,1130.7 L1133.0,1128.7 L1136.4,1126.7 L1139.9,1124.7 L1143.3,1122.7 L1146.8,1120.7 L1150.2,1118.7 L1153.7,1116.7 L1157.2,1114.7 L1160.6,1112.7 L1164.1,1110.8 L1167.6,1108.8 L1171.1,1106.9 L1174.6,1104.9 L1178.1,1103.0 L1181.6,1101.0 L1185.1,1099.1 L1188.6,1097.2 L1192.1,1095.3 L1195.7,1093.4 L1199.2,1091.5 L1202.7,1089.6 L1206.3,1087.7 L1209.8,1085.9 L1213.3,1084.0 L1216.9,1082.1 L1220.4,1080.3 L1224.0,1078.4 L1227.5,1076.6 L1231.1,1074.8 L1234.7,1072.9 L1238.2,1071.1 L1241.8,1069.3 L1245.4,1067.5 L1249.0,1065.7 L1252.6,1063.9 L1256.2,1062.1 L1259.8,1060.3 L1263.3,1058.5 L1267.0,1056.8 L1270.6,1055.0 L1274.2,1053.2 L1277.8,1051.5 L1281.4,1049.7 L1285.0,1048.0 L1288.6,1046.3 L1292.3,1044.6 L1295.9,1042.8 L1299.5,1041.1 L1303.2,1039.4 L1306.8,1037.7 L1310.4,1036.0 L1314.1,1034.3 L1317.7,1032.6 L1321.4,1031.0 L1325.1,1029.3 L1328.7,1027.6 L1332.4,1026.0 L1336.0,1024.3 L1339.7,1022.7 L1343.4,1021.0 L1347.1,1019.4 L1350.7,1017.8 L1354.4,1016.1 L1358.1,1014.5 L1361.8,1012.9 L1365.5,1011.3 L1369.2,1009.7 L1372.9,1008.1 L1376.6,1006.5 L1380.3,1004.9 L1384.0,1003.4 L1387.7,1001.8 L1391.4,1000.2 L1395.1,998.7 L1398.9,997.1 L1402.6,995.6 L1406.3,994.0 L1410.0,992.5 L1413.8,990.9 L1417.5,989.4 L1421.2,987.9 L1425.0,986.4 L1428.7,984.9 L1432.4,983.4 L1436.2,981.9 L1439.9,980.4 L1443.7,978.9 L1447.4,977.4 L1451.2,975.9 L1454.9,974.4 L1458.7,973.0 L1462.5,971.5 L1466.2,970.0 L1470.0,968.6 L1473.7,967.1 L1477.5,965.7 L1481.3,964.2 L1485.1,962.8 L1488.8,961.4 L1492.6,960.0 L1496.4,958.5 L1500.2,957.1 L1504.0,955.7 L1507.7,954.3 L1511.5,952.9 L1515.3,951.5 L1519.1,950.1 L1522.9,948.7 L1526.7,947.4 L1530.5,946.0 L1534.3,944.6 L1538.1,943.2 L1541.9,941.9 L1545.7,940.5 L1549.5,939.2 L1553.3,937.8 L1557.1,936.5 L1560.9,935.1 L1564.8,933.8 L1568.6,932.5 L1572.4,931.2 L1576.2,929.8 L1580.0,928.5 L1583.8,927.2 L1587.7,925.9 L1591.5,924.6 L1595.3,923.3 L1599.1,922.0 L1603.0,920.7 L1606.8,919.4 L1610.6,918.1 L1614.5,916.9 L1618.3,915.6 L1622.1,914.3 L1626.0,913.1 L1629.8,911.8 L1633.6,910.5 L1637.5,909.3 L1641.3,908.0 L1645.1,906.8 L1649.0,905.6 L1652.8,904.3 L1656.7,903.1 L1660.5,901.9 L1664.4,900.6 L1668.2,899.4 L1672.1,898.2 L1675.9,897.0 L1679.7,895.8 L1683.6,894.6 L1687.4,893.4 L1691.3,892.2 L1695.1,891.0 L1699.0,889.8 L1702.8,888.6 L1706.7,887.4 L1710.6,886.2 L1714.4,885.1 L1718.3,883.9 L1722.1,882.7 L1726.0,881.6 L1729.8,880.4 L1733.7,879.2 L1737.5,878.1 L1741.4,876.9 L1745.2,875.8 L1749.1,874.7 L1753.0,873.5 L1756.8,872.4 L1760.7,871.2 L1764.5,870.1 L1768.4,869.0 L1772.3,867.9 L1776.1,866.7 L1780.0,865.6 L1783.8,864.5 L1787.7,863.4 L1791.5,862.3 L1795.4,861.2 L1799.3,860.1 L1803.1,859.0 L1807.0,857.9 L1810.8,856.8 L1814.7,855.7 L1818.6,854.6 L1822.4,853.5 L1826.3,852.5 L1830.1,851.4 L1834.0,850.3 L1837.8,849.2 L1841.7,848.2 L1845.5,847.1 L1849.4,846.0 L1853.3,845.0 L1857.1,843.9 L1861.0,842.9 L1864.8,841.8 L1868.7,840.8 L1872.5,839.7 L1876.4,838.7 L1880.2,837.6 L1884.1,836.6 L1887.9,835.6 L1891.8,834.5 L1895.6,833.5 L1899.5,832.5 L1903.3,831.5 L1907.2,830.4 L1911.0,829.4 L1914.8,828.4 L1918.7,827.4 L1922.5,826.4 L1926.4,825.4 L1930.2,824.3 L1934.1,823.3 L1937.9,822.3 L1941.7,821.3 L1945.6,820.3 L1949.4,819.3 L1953.2,818.3 L1957.1,817.4 L1960.9,816.4 L1964.7,815.4 L1968.6,814.4 L1972.4,813.4 L1976.2,812.4 L1980.0,811.4 L1983.9,810.5 L1987.7,809.5 L1991.5,808.5 L1995.3,807.5 L1993.3,811.0 L1991.3,814.6 L1989.2,818.1 L1987.2,821.6 L1985.2,825.1 L1983.2,828.6 L1981.1,832.1 L1979.1,835.5 L1977.1,839.0 L1975.1,842.5 L1973.0,846.0 L1971.0,849.4 L1969.0,852.9 L1966.9,856.3 L1964.9,859.8 L1962.8,863.2 L1960.7,866.6 L1958.6,870.0 L1956.5,873.4 L1954.4,876.8 L1952.3,880.1 L1950.1,883.5 L1947.9,886.8 L1945.8,890.1 L1943.5,893.4 L1941.3,896.7 L1939.1,900.0 L1936.8,903.2 L1934.5,906.4 L1932.1,909.6 L1929.8,912.8 L1927.4,916.0 L1925.0,919.1 L1922.6,922.3 L1920.2,925.4 L1917.7,928.5 L1915.2,931.6 L1912.7,934.6 L1910.2,937.7 L1907.7,940.7 L1905.2,943.8 L1902.6,946.8 L1900.1,949.9 L1897.5,952.9 L1894.9,955.9 L1892.3,958.9 L1889.7,961.9 L1887.1,964.9 L1884.4,967.9 L1881.8,970.8 L1879.2,973.8 L1876.5,976.8 L1873.8,979.8 L1871.2,982.7 L1868.5,985.7 L1865.8,988.6 L1863.1,991.6 L1860.4,994.5 L1857.7,997.4 L1854.9,1000.4 L1852.2,1003.3 L1849.5,1006.2 L1846.7,1009.1 L1844.0,1012.0 L1841.2,1014.9 L1838.4,1017.8 L1835.6,1020.7 L1832.9,1023.6 L1830.1,1026.5 L1827.3,1029.3 L1824.5,1032.2 L1821.6,1035.1 L1818.8,1037.9 L1816.0,1040.8 L1813.2,1043.6 L1810.3,1046.5 L1807.5,1049.3 L1804.6,1052.2 L1801.8,1055.0 L1798.9,1057.8 L1796.0,1060.6 L1793.2,1063.5 L1790.3,1066.3 L1787.4,1069.1 L1784.5,1071.9 L1781.6,1074.7 L1778.7,1077.5 L1775.8,1080.3 L1772.9,1083.1 L1770.0,1085.9 L1767.1,1088.7 L1764.2,1091.5 L1761.3,1094.3 L1758.4,1097.0 L1755.4,1099.8 L1752.5,1102.6 L1749.6,1105.3 L1746.6,1108.1 L1743.7,1110.9 L1740.8,1113.6 L1737.8,1116.4 L1734.9,1119.1 L1731.9,1121.9 L1729.0,1124.6 L1726.0,1127.4 L1723.1,1130.1 L1720.1,1132.8 L1717.2,1135.6 L1714.2,1138.3 L1711.3,1141.0 L1708.3,1143.8 L1705.3,1146.5 L1702.4,1149.2 L1699.4,1151.9 L1696.5,1154.6 L1693.5,1157.3 L1690.5,1160.1 L1687.6,1162.8 L1684.6,1165.5 L1681.6,1168.2 L1678.7,1170.9 L1675.7,1173.6 L1672.7,1176.3 L1669.7,1179.0 L1666.8,1181.6 L1663.8,1184.3 L1660.8,1187.0 L1657.8,1189.7 L1654.8,1192.4 L1651.9,1195.1 L1648.9,1197.7 L1645.9,1200.4 L1642.9,1203.1 L1639.9,1205.7 L1636.9,1208.4 L1633.9,1211.1 L1630.9,1213.7 L1627.9,1216.4 L1624.9,1219.0 L1621.9,1221.7 L1618.9,1224.3 L1615.9,1227.0 L1612.9,1229.6 L1609.9,1232.2 L1606.9,1234.9 L1603.9,1237.5 L1600.9,1240.1 L1597.8,1242.8 L1594.8,1245.4 L1591.8,1248.0 L1588.8,1250.6 L1585.7,1253.2 L1582.7,1255.8 L1579.7,1258.4 L1576.7,1261.1 L1573.6,1263.7 L1570.6,1266.3 L1567.5,1268.9 L1564.5,1271.4 L1561.5,1274.0 L1558.4,1276.6 L1555.4,1279.2 L1552.3,1281.8 L1549.3,1284.4 L1546.2,1287.0 L1543.1,1289.5 L1540.1,1292.1 L1537.0,1294.7 L1534.0,1297.2 L1530.9,1299.8 L1527.8,1302.3 L1524.7,1304.9 L1521.7,1307.5 L1518.6,1310.0 L1515.5,1312.5 L1512.4,1315.1 L1509.3,1317.6 L1506.2,1320.2 L1503.1,1322.7 L1500.1,1325.2 L1497.0,1327.8 L1493.8,1330.3 L1490.7,1332.8 L1487.6,1335.3 L1484.5,1337.8 L1481.4,1340.3 L1478.3,1342.9 L1475.2,1345.4 L1472.1,1347.9 L1468.9,1350.4 L1465.8,1352.9 L1462.7,1355.4 L1459.5,1357.9 L1456.4,1360.3 L1453.3,1362.8 L1450.1,1365.3 L1447.0,1367.8 L1443.8,1370.3 L1440.7,1372.7 L1437.5,1375.2 L1434.4,1377.7 L1431.2,1380.2 L1428.1,1382.6 L1424.9,1385.1 L1421.7,1387.5 L1418.6,1390.0 L1415.4,1392.5 L1412.2,1394.9 L1409.1,1397.4 L1405.9,1399.8 L1402.7,1402.3 L1399.6,1404.7 L1396.4,1407.1 L1393.2,1409.6 L1390.0,1412.0 L1386.8,1414.5 L1383.6,1416.9 L1380.5,1419.3 L1377.3,1421.8 L1374.1,1424.2 L1370.9,1426.6 L1367.7,1429.0 L1364.5,1431.5 L1361.3,1433.9 L1358.1,1436.3 L1354.9,1438.7 L1351.7,1441.1 L1348.5,1443.5 L1345.3,1446.0 L1342.1,1448.4 L1338.9,1450.8 L1335.7,1453.2 L1332.4,1455.6 L1329.2,1458.0 L1326.0,1460.4 L1322.8,1462.8 L1319.6,1465.2 L1316.4,1467.6 L1313.1,1470.0 L1309.9,1472.4 L1306.7,1474.8 L1303.5,1477.2 L1300.3,1479.6 L1297.0,1482.0 L1293.8,1484.4 L1290.6,1486.8 L1287.4,1489.2 L1284.1,1491.6 L1280.9,1493.9 L1277.7,1496.3 L1274.5,1498.7 L1271.2,1501.1 L1268.0,1503.5 L1264.8,1505.9 L1261.5,1508.3 L1258.3,1510.6 L1255.1,1513.0 L1251.8,1515.4 L1248.6,1517.8 L1245.4,1520.2 L1242.1,1522.6 L1238.9,1524.9 L1235.7,1527.3 L1232.4,1529.7 L1229.2,1532.1 L1226.0,1534.5 L1222.7,1536.8 L1219.5,1539.2 L1216.3,1541.6 L1213.0,1544.0 L1209.8,1546.3 L1206.6,1548.7 L1203.3,1551.1 L1200.1,1553.5 L1196.9,1555.9 L1193.6,1558.2 L1190.4,1560.6 L1187.2,1563.0 L1183.9,1565.4 L1180.7,1567.7 L1177.5,1570.1 L1174.2,1572.5 L1171.0,1574.9 L1167.8,1577.3 L1164.5,1579.6 L1161.3,1582.0 L1158.1,1584.4 L1154.8,1586.8 L1151.6,1589.2 L1148.4,1591.6 L1145.1,1593.9 L1141.9,1596.3 L1138.7,1598.7 L1135.5,1601.1 L1132.2,1603.5 L1129.0,1605.9 L1125.8,1608.2 L1122.6,1610.6 L1119.3,1613.0 L1116.1,1615.4 L1112.9,1617.8 L1109.7,1620.2 L1106.5,1622.6 L1103.2,1625.0 L1100.0,1627.4 L1096.8,1629.8 L1093.6,1632.2 L1090.4,1634.6 L1087.2,1637.0 L1084.0,1639.4 L1080.8,1641.8 L1077.6,1644.2 L1074.3,1646.6 L1071.1,1649.0 L1067.9,1651.4 L1064.7,1653.8 L1061.5,1656.2 L1058.3,1658.6 L1055.1,1661.0 L1051.9,1663.4 L1048.7,1665.8 L1045.5,1668.2 L1042.3,1670.6 L1039.1,1673.0 L1035.9,1675.5 L1032.7,1677.9 L1029.6,1680.3 L1026.4,1682.7 L1023.2,1685.1 L1020.0,1687.5 L1016.8,1689.9 L1013.6,1692.4 L1010.4,1694.8 L1007.2,1697.2 L1004.0,1699.6 L1000.8,1702.0 L997.6,1704.4 L994.4,1706.9 L991.3,1709.3 L988.1,1711.7 L984.9,1714.1 L981.7,1716.5 L978.5,1718.9 L975.3,1721.4 L972.1,1723.8 L968.9,1726.2 L965.7,1728.6 L962.5,1731.0 L959.4,1733.4 L956.2,1735.9 L953.0,1738.3 L949.8,1740.7 L946.6,1743.1 L943.4,1745.5 L940.2,1747.9 L937.0,1750.3 L933.8,1752.7 L930.6,1755.2 L927.4,1757.6 L924.2,1760.0 L921.0,1762.4 L917.8,1764.8 L914.6,1767.2 L911.5,1769.6 L908.3,1772.0 L905.1,1774.4 L901.9,1776.8 L898.7,1779.2 L895.5,1781.6 L892.3,1784.0 L889.0,1786.4 L885.8,1788.8 L882.6,1791.2 L879.4,1793.6 L876.2,1796.0 L873.0,1798.4 L869.8,1800.8 L866.6,1803.2 L863.4,1805.6 L860.2,1808.0 L857.0,1810.4 L853.7,1812.7 L850.5,1815.1 L847.3,1817.5 L844.1,1819.9 L840.9,1822.3 L837.6,1824.7 L834.4,1827.0 L831.2,1829.4 L827.9,1831.8 L824.7,1834.1 L821.5,1836.5 L818.3,1838.9 L815.0,1841.2 L811.8,1843.6 L808.6,1846.0 L805.3,1848.4 L802.1,1850.7 L798.9,1853.1 L795.7,1855.5 L792.4,1857.9 L789.2,1860.3 L786.0,1862.7 L782.8,1865.1 L779.6,1867.5 L776.4,1869.9 L773.3,1872.3 L770.1,1874.8 L767.0,1877.2 L763.8,1879.7 L760.7,1882.2 L757.6,1884.7 L754.5,1887.2 L751.4,1889.7 L748.3,1892.2 L745.2,1894.8 L742.2,1897.3 L739.1,1899.9 L736.1,1902.5 L733.1,1905.1 L730.1,1907.8 L727.2,1910.4 L724.2,1913.1 L721.3,1915.8 L718.4,1918.6 L715.5,1921.3 L712.7,1924.1 L709.9,1926.9 L707.1,1929.7 L704.3,1932.5 L701.5,1935.4 L698.7,1938.3 L696.0,1941.2 L693.2,1944.1 L690.5,1947.0 L687.8,1949.8 L685.0,1952.7 L682.3,1955.6 L679.5,1958.5 L676.7,1961.3 L674.0,1964.2 L671.2,1967.0 L668.3,1969.8 L665.5,1972.5 L662.6,1975.3 L659.7,1978.0 L656.8,1980.6 L653.8,1983.2 L650.8,1985.8 L647.7,1988.3 L644.6,1990.8 L641.5,1993.2 L638.3,1995.5 L635.0,1997.8 L631.7,2000.0" stroke="#00B050"/><path d="M327.0,2000.0 L329.4,1996.8 L331.8,1993.5 L334.1,1990.2 L336.5,1986.9 L338.8,1983.6 L341.1,1980.3 L343.4,1977.0 L345.6,1973.7 L347.9,1970.4 L350.1,1967.0 L352.3,1963.7 L354.5,1960.3 L356.7,1957.0 L358.9,1953.6 L361.0,1950.2 L363.1,1946.8 L365.3,1943.4 L367.4,1940.0 L369.5,1936.6 L371.5,1933.2 L373.6,1929.7 L375.7,1926.3 L377.7,1922.9 L379.7,1919.4 L381.7,1915.9 L383.7,1912.5 L385.7,1909.0 L387.7,1905.5 L389.7,1902.0 L391.6,1898.5 L393.6,1895.0 L395.5,1891.5 L397.4,1888.0 L399.3,1884.5 L401.2,1881.0 L403.1,1877.4 L405.0,1873.9 L406.9,1870.4 L408.7,1866.8 L410.6,1863.3 L412.4,1859.7 L414.3,1856.2 L416.1,1852.6 L417.9,1849.0 L419.7,1845.5 L421.5,1841.9 L423.3,1838.3 L425.1,1834.7 L426.9,1831.1 L428.7,1827.5 L430.5,1823.9 L432.2,1820.3 L434.0,1816.7 L435.8,1813.1 L437.5,1809.5 L439.3,1805.9 L441.0,1802.3 L442.7,1798.7 L444.5,1795.1 L446.2,1791.5 L447.9,1787.8 L449.7,1784.2 L451.4,1780.6 L453.1,1777.0 L454.8,1773.3 L456.6,1769.7 L458.3,1766.1 L460.0,1762.5 L461.7,1758.8 L463.4,1755.2 L465.1,1751.6 L466.8,1747.9 L468.6,1744.3 L470.3,1740.7 L472.0,1737.0 L473.7,1733.4 L475.4,1729.8 L477.1,1726.2 L478.8,1722.5 L480.6,1718.9 L482.3,1715.3 L484.0,1711.7 L485.7,1708.0 L487.5,1704.4 L489.2,1700.8 L490.9,1697.2 L492.7,1693.6 L494.4,1689.9 L496.1,1686.3 L497.9,1682.7 L499.7,1679.1 L501.4,1675.5 L503.2,1671.9 L504.9,1668.3 L506.7,1664.7 L508.5,1661.1 L510.3,1657.5 L512.1,1653.9 L513.9,1650.3 L515.6,1646.7 L517.4,1643.2 L519.2,1639.6 L521.1,1636.0 L522.9,1632.4 L524.7,1628.8 L526.5,1625.3 L528.3,1621.7 L530.1,1618.1 L532.0,1614.6 L533.8,1611.0 L535.7,1607.4 L537.5,1603.9 L539.3,1600.3 L541.2,1596.8 L543.1,1593.2 L544.9,1589.7 L546.8,1586.1 L548.6,1582.6 L550.5,1579.0 L552.4,1575.5 L554.3,1571.9 L556.2,1568.4 L558.0,1564.9 L559.9,1561.3 L561.8,1557.8 L563.7,1554.3 L565.6,1550.7 L567.5,1547.2 L569.4,1543.7 L571.4,1540.2 L573.3,1536.6 L575.2,1533.1 L577.1,1529.6 L579.1,1526.1 L581.0,1522.6 L582.9,1519.1 L584.9,1515.6 L586.8,1512.1 L588.7,1508.6 L590.7,1505.0 L592.7,1501.5 L594.6,1498.0 L596.6,1494.5 L598.5,1491.1 L600.5,1487.6 L602.5,1484.1 L604.4,1480.6 L606.4,1477.1 L608.4,1473.6 L610.4,1470.1 L612.4,1466.6 L614.4,1463.2 L616.4,1459.7 L618.4,1456.2 L620.4,1452.7 L622.4,1449.2 L624.4,1445.8 L626.4,1442.3 L628.4,1438.8 L630.4,1435.4 L632.4,1431.9 L634.5,1428.4 L636.5,1425.0 L638.5,1421.5 L640.6,1418.0 L642.6,1414.6 L644.6,1411.1 L646.7,1407.7 L648.7,1404.2 L650.8,1400.8 L652.8,1397.3 L654.9,1393.9 L656.9,1390.4 L659.0,1387.0 L661.1,1383.5 L663.1,1380.1 L665.2,1376.6 L667.3,1373.2 L669.4,1369.8 L671.4,1366.3 L673.5,1362.9 L675.6,1359.5 L677.7,1356.0 L679.8,1352.6 L681.9,1349.2 L684.0,1345.7 L686.1,1342.3 L688.2,1338.9 L690.3,1335.5 L692.4,1332.0 L694.5,1328.6 L696.6,1325.2 L698.7,1321.8 L700.9,1318.4 L703.0,1314.9 L705.1,1311.5 L707.2,1308.1 L709.4,1304.7 L711.5,1301.3 L713.6,1297.9 L715.8,1294.5 L717.9,1291.1 L720.0,1287.7 L722.2,1284.2 L724.3,1280.8 L726.5,1277.4 L728.6,1274.0 L730.8,1270.6 L733.0,1267.3 L735.1,1263.9 L737.3,1260.5 L739.5,1257.1 L741.6,1253.7 L743.8,1250.3 L746.0,1246.9 L748.2,1243.6 L750.4,1240.2 L752.6,1236.8 L754.8,1233.4 L757.0,1230.1 L759.2,1226.7 L761.4,1223.4 L763.6,1220.0 L765.9,1216.7 L768.1,1213.3 L770.3,1210.0 L772.6,1206.6 L774.8,1203.3 L777.1,1200.0 L779.3,1196.7 L781.6,1193.3 L783.9,1190.0 L786.1,1186.7 L788.4,1183.4 L790.7,1180.1 L793.0,1176.8 L795.3,1173.5 L797.6,1170.3 L799.9,1167.0 L802.2,1163.7 L804.6,1160.4 L806.9,1157.2 L809.3,1153.9 L811.6,1150.7 L814.0,1147.4 L816.3,1144.2 L818.7,1141.0 L821.1,1137.7 L823.5,1134.5 L825.9,1131.3 L828.3,1128.1 L830.7,1124.9 L833.1,1121.7 L835.5,1118.6 L837.9,1115.4 L840.4,1112.2 L842.8,1109.1 L845.3,1105.9 L847.8,1102.8 L850.3,1099.6 L852.7,1096.5 L855.2,1093.4 L857.7,1090.3 L860.3,1087.2 L862.8,1084.1 L865.3,1081.0 L867.9,1077.9 L870.4,1074.9 L873.0,1071.8 L875.6,1068.8 L878.1,1065.7 L880.7,1062.7 L883.3,1059.7 L886.0,1056.7 L888.6,1053.7 L891.2,1050.7 L893.9,1047.7 L896.5,1044.7 L899.2,1041.8 L901.9,1038.8 L904.6,1035.9 L907.3,1033.0 L910.0,1030.0 L912.7,1027.1 L915.5,1024.2 L918.2,1021.4 L921.0,1018.5 L923.7,1015.6 L926.5,1012.8 L929.3,1009.9 L932.1,1007.1 L934.9,1004.3 L937.8,1001.5 L940.6,998.7 L943.5,995.9 L946.3,993.1 L949.2,990.4 L952.1,987.6 L955.0,984.9 L957.9,982.1 L960.8,979.4 L963.8,976.7 L966.7,974.0 L969.7,971.3 L972.6,968.6 L975.6,965.9 L978.6,963.3 L981.5,960.6 L984.5,957.9 L987.5,955.3 L990.5,952.7 L993.6,950.1 L996.6,947.4 L999.6,944.8 L1002.7,942.2 L1005.7,939.6 L1008.8,937.1 L1011.8,934.5 L1014.9,931.9 L1018.0,929.3 L1021.1,926.8 L1024.2,924.2 L1027.3,921.7 L1030.4,919.2 L1033.5,916.6 L1036.6,914.1 L1039.7,911.6 L1042.8,909.1 L1046.0,906.6 L1049.1,904.1 L1052.2,901.6 L1055.4,899.1 L1058.5,896.6 L1061.7,894.1 L1064.9,891.7 L1068.0,889.2 L1071.2,886.8 L1074.4,884.3 L1077.5,881.8 L1080.7,879.4 L1083.9,877.0 L1087.1,874.5 L1090.3,872.1 L1093.4,869.7 L1096.6,867.2 L1099.8,864.8 L1103.0,862.4 L1106.2,860.0 L1109.4,857.6 L1112.6,855.2 L1115.9,852.8 L1119.1,850.4 L1122.3,848.0 L1125.5,845.6 L1128.7,843.2 L1132.0,840.8 L1135.2,838.5 L1138.4,836.1 L1141.7,833.7 L1144.9,831.4 L1148.1,829.0 L1151.4,826.7 L1154.6,824.3 L1157.9,822.0 L1161.1,819.6 L1164.4,817.3 L1167.7,815.0 L1170.9,812.6 L1174.2,810.3 L1177.4,808.0 L1180.7,805.7 L1184.0,803.4 L1187.3,801.1 L1190.5,798.7 L1193.8,796.4 L1197.1,794.1 L1200.4,791.8 L1203.7,789.6 L1207.0,787.3 L1210.3,785.0 L1213.6,782.7 L1216.9,780.4 L1220.2,778.1 L1223.5,775.9 L1226.8,773.6 L1230.1,771.3 L1233.4,769.1 L1236.7,766.8 L1240.0,764.6 L1243.3,762.3 L1246.6,760.1 L1250.0,757.8 L1253.3,755.6 L1256.6,753.3 L1259.9,751.1 L1263.3,748.9 L1266.6,746.6 L1269.9,744.4 L1273.3,742.2 L1276.6,740.0 L1280.0,737.8 L1283.3,735.5 L1286.6,733.3 L1290.0,731.1 L1293.3,728.9 L1296.7,726.7 L1300.0,724.5 L1303.4,722.3 L1306.7,720.1 L1310.1,717.9 L1313.5,715.7 L1316.8,713.5 L1320.2,711.4 L1323.6,709.2 L1326.9,707.0 L1330.3,704.8 L1333.7,702.6 L1337.0,700.5 L1340.4,698.3 L1343.8,696.1 L1347.2,694.0 L1350.5,691.8 L1353.9,689.7 L1357.3,687.5 L1360.7,685.4 L1364.1,683.2 L1367.5,681.1 L1370.8,678.9 L1374.2,676.8 L1377.6,674.7 L1381.0,672.5 L1384.4,670.4 L1387.8,668.3 L1391.2,666.2 L1394.6,664.0 L1398.0,661.9 L1401.4,659.8 L1404.9,657.7 L1408.3,655.6 L1411.7,653.5 L1415.1,651.4 L1418.5,649.4 L1422.0,647.3 L1425.4,645.2 L1428.8,643.1 L1432.2,641.1 L1435.7,639.0 L1439.1,637.0 L1442.6,634.9 L1446.0,632.9 L1449.4,630.8 L1452.9,628.8 L1456.3,626.7 L1459.8,624.7 L1463.2,622.7 L1466.7,620.7 L1470.2,618.7 L1473.6,616.7 L1477.1,614.7 L1480.6,612.7 L1484.0,610.7 L1487.5,608.7 L1491.0,606.7 L1494.5,604.8 L1498.0,602.8 L1501.4,600.8 L1504.9,598.9 L1508.4,596.9 L1511.9,595.0 L1515.4,593.1 L1518.9,591.2 L1522.4,589.2 L1526.0,587.3 L1529.5,585.4 L1533.0,583.5 L1536.5,581.6 L1540.0,579.7 L1543.6,577.9 L1547.1,576.0 L1550.6,574.1 L1554.2,572.3 L1557.7,570.4 L1561.2,568.6 L1564.8,566.7 L1568.3,564.9 L1571.9,563.1 L1575.5,561.3 L1579.0,559.5 L1582.6,557.7 L1586.2,555.9 L1589.7,554.1 L1593.3,552.3 L1596.9,550.6 L1600.5,548.8 L1604.1,547.1 L1607.7,545.3 L1611.3,543.6 L1614.9,541.9 L1618.5,540.2 L1622.1,538.5 L1625.7,536.8 L1629.3,535.1 L1632.9,533.4 L1636.5,531.7 L1640.2,530.1 L1643.8,528.4 L1647.4,526.7 L1651.1,525.1 L1654.7,523.5 L1658.4,521.8 L1662.0,520.2 L1665.7,518.6 L1669.3,517.0 L1673.0,515.4 L1676.6,513.8 L1680.3,512.2 L1684.0,510.6 L1687.6,509.0 L1691.3,507.4 L1695.0,505.9 L1698.6,504.3 L1702.3,502.7 L1706.0,501.2 L1709.7,499.6 L1713.4,498.1 L1717.1,496.6 L1720.7,495.0 L1724.4,493.5 L1728.1,492.0 L1731.8,490.4 L1735.5,488.9 L1739.2,487.4 L1742.9,485.9 L1746.6,484.4 L1750.3,482.9 L1754.0,481.4 L1757.8,479.9 L1761.5,478.4 L1765.2,476.9 L1768.9,475.4 L1772.6,473.9 L1776.3,472.5 L1780.0,471.0 L1783.7,469.5 L1787.5,468.0 L1791.2,466.6 L1794.9,465.1 L1798.6,463.6 L1802.3,462.1 L1806.1,460.7 L1809.8,459.2 L1813.5,457.8 L1817.2,456.3 L1821.0,454.8 L1824.7,453.4 L1828.4,451.9 L1832.1,450.4 L1835.9,449.0 L1839.6,447.5 L1843.3,446.1 L1847.0,444.6 L1850.8,443.1 L1854.5,441.7 L1858.2,440.2 L1861.9,438.8 L1865.7,437.3 L1869.4,435.8 L1873.1,434.4 L1876.8,432.9 L1880.6,431.4 L1884.3,430.0 L1888.0,428.5 L1891.7,427.0 L1895.4,425.6 L1899.2,424.1 L1902.9,422.6 L1906.6,421.1 L1910.3,419.7 L1914.0,418.2 L1917.7,416.7 L1921.5,415.2 L1925.2,413.7 L1928.9,412.2 L1932.6,410.7 L1936.3,409.2 L1940.0,407.7 L1943.7,406.2 L1947.4,404.7 L1951.1,403.2 L1954.8,401.6 L1958.5,400.1 L1962.2,398.6 L1965.9,397.1 L1969.6,395.5 L1973.3,394.0 L1976.9,392.4 L1980.6,390.9 L1984.3,389.3 L1988.0,387.8 L1991.7,386.2 L1995.3,384.6 L1993.8,388.4 L1992.4,392.1 L1990.9,395.8 L1989.4,399.6 L1987.9,403.3 L1986.4,407.0 L1984.9,410.7 L1983.3,414.5 L1981.8,418.2 L1980.3,421.9 L1978.8,425.6 L1977.2,429.4 L1975.7,433.1 L1974.1,436.8 L1972.6,440.5 L1971.0,444.2 L1969.4,447.9 L1967.8,451.6 L1966.3,455.3 L1964.7,459.0 L1963.1,462.7 L1961.4,466.4 L1959.8,470.1 L1958.2,473.7 L1956.5,477.4 L1954.9,481.1 L1953.2,484.7 L1951.5,488.4 L1949.9,492.0 L1948.2,495.7 L1946.5,499.3 L1944.7,502.9 L1943.0,506.5 L1941.3,510.1 L1939.5,513.8 L1937.8,517.4 L1936.0,520.9 L1934.2,524.5 L1932.4,528.1 L1930.6,531.7 L1928.7,535.2 L1926.9,538.8 L1925.0,542.3 L1923.2,545.9 L1921.3,549.4 L1919.4,552.9 L1917.5,556.4 L1915.5,559.9 L1913.6,563.4 L1911.6,566.8 L1909.7,570.3 L1907.7,573.8 L1905.7,577.2 L1903.6,580.6 L1901.6,584.1 L1899.5,587.5 L1897.5,590.9 L1895.4,594.3 L1893.3,597.6 L1891.1,601.0 L1889.0,604.3 L1886.8,607.7 L1884.7,611.0 L1882.5,614.3 L1880.3,617.6 L1878.0,620.9 L1875.8,624.2 L1873.5,627.5 L1871.3,630.8 L1869.0,634.0 L1866.7,637.3 L1864.4,640.5 L1862.0,643.7 L1859.7,646.9 L1857.3,650.1 L1855.0,653.3 L1852.6,656.5 L1850.2,659.7 L1847.8,662.9 L1845.4,666.1 L1842.9,669.2 L1840.5,672.4 L1838.1,675.5 L1835.6,678.6 L1833.1,681.8 L1830.6,684.9 L1828.1,688.0 L1825.6,691.1 L1823.1,694.2 L1820.6,697.3 L1818.0,700.4 L1815.5,703.4 L1812.9,706.5 L1810.4,709.6 L1807.8,712.6 L1805.2,715.7 L1802.6,718.7 L1800.0,721.8 L1797.4,724.8 L1794.8,727.8 L1792.2,730.9 L1789.5,733.9 L1786.9,736.9 L1784.3,739.9 L1781.6,742.9 L1779.0,745.9 L1776.3,748.9 L1773.6,751.9 L1771.0,754.9 L1768.3,757.9 L1765.6,760.9 L1762.9,763.9 L1760.2,766.9 L1757.5,769.9 L1754.9,772.8 L1752.1,775.8 L1749.4,778.8 L1746.7,781.8 L1744.0,784.7 L1741.3,787.7 L1738.6,790.6 L1735.9,793.6 L1733.2,796.6 L1730.4,799.5 L1727.7,802.5 L1725.0,805.4 L1722.3,808.4 L1719.5,811.4 L1716.8,814.3 L1714.1,817.3 L1711.4,820.2 L1708.6,823.2 L1705.9,826.1 L1703.2,829.1 L1700.5,832.1 L1697.7,835.0 L1695.0,838.0 L1692.3,840.9 L1689.6,843.9 L1686.9,846.9 L1684.1,849.8 L1681.4,852.8 L1678.7,855.7 L1676.0,858.7 L1673.3,861.7 L1670.6,864.6 L1667.9,867.6 L1665.1,870.6 L1662.4,873.5 L1659.7,876.5 L1657.0,879.5 L1654.3,882.4 L1651.6,885.4 L1648.9,888.4 L1646.2,891.4 L1643.5,894.3 L1640.8,897.3 L1638.1,900.3 L1635.4,903.2 L1632.7,906.2 L1630.0,909.2 L1627.3,912.1 L1624.6,915.1 L1621.9,918.1 L1619.2,921.1 L1616.5,924.0 L1613.8,927.0 L1611.1,930.0 L1608.4,933.0 L1605.7,935.9 L1603.0,938.9 L1600.3,941.9 L1597.6,944.9 L1594.9,947.8 L1592.2,950.8 L1589.5,953.8 L1586.8,956.8 L1584.1,959.7 L1581.4,962.7 L1578.8,965.7 L1576.1,968.7 L1573.4,971.6 L1570.7,974.6 L1568.0,977.6 L1565.3,980.6 L1562.6,983.6 L1559.9,986.5 L1557.2,989.5 L1554.5,992.5 L1551.8,995.5 L1549.2,998.4 L1546.5,1001.4 L1543.8,1004.4 L1541.1,1007.4 L1538.4,1010.3 L1535.7,1013.3 L1533.0,1016.3 L1530.3,1019.3 L1527.6,1022.2 L1524.9,1025.2 L1522.3,1028.2 L1519.6,1031.2 L1516.9,1034.1 L1514.2,1037.1 L1511.5,1040.1 L1508.8,1043.0 L1506.1,1046.0 L1503.4,1049.0 L1500.7,1052.0 L1498.0,1054.9 L1495.3,1057.9 L1492.7,1060.9 L1490.0,1063.8 L1487.3,1066.8 L1484.6,1069.8 L1481.9,1072.7 L1479.2,1075.7 L1476.5,1078.7 L1473.8,1081.7 L1471.1,1084.6 L1468.4,1087.6 L1465.7,1090.5 L1463.0,1093.5 L1460.3,1096.5 L1457.6,1099.4 L1454.9,1102.4 L1452.2,1105.4 L1449.5,1108.3 L1446.8,1111.3 L1444.1,1114.2 L1441.4,1117.2 L1438.7,1120.2 L1436.0,1123.1 L1433.3,1126.1 L1430.6,1129.0 L1427.9,1132.0 L1425.2,1135.0 L1422.5,1137.9 L1419.8,1140.9 L1417.1,1143.8 L1414.4,1146.8 L1411.7,1149.7 L1409.0,1152.7 L1406.3,1155.6 L1403.6,1158.6 L1400.8,1161.5 L1398.1,1164.5 L1395.4,1167.4 L1392.7,1170.3 L1390.0,1173.3 L1387.3,1176.2 L1384.6,1179.2 L1381.8,1182.1 L1379.1,1185.0 L1376.4,1188.0 L1373.7,1190.9 L1371.0,1193.9 L1368.2,1196.8 L1365.5,1199.7 L1362.8,1202.7 L1360.1,1205.6 L1357.3,1208.5 L1354.6,1211.5 L1351.9,1214.4 L1349.1,1217.3 L1346.4,1220.2 L1343.7,1223.2 L1340.9,1226.1 L1338.2,1229.0 L1335.5,1231.9 L1332.7,1234.8 L1330.0,1237.8 L1327.2,1240.7 L1324.5,1243.6 L1321.8,1246.5 L1319.0,1249.4 L1316.3,1252.3 L1313.5,1255.2 L1310.8,1258.1 L1308.0,1261.1 L1305.3,1264.0 L1302.5,1266.9 L1299.7,1269.8 L1297.0,1272.7 L1294.2,1275.6 L1291.5,1278.5 L1288.7,1281.4 L1285.9,1284.2 L1283.2,1287.1 L1280.4,1290.0 L1277.6,1292.9 L1274.9,1295.8 L1272.1,1298.7 L1269.3,1301.6 L1266.5,1304.5 L1263.8,1307.3 L1261.0,1310.2 L1258.2,1313.1 L1255.4,1316.0 L1252.6,1318.9 L1249.9,1321.7 L1247.1,1324.6 L1244.3,1327.5 L1241.5,1330.3 L1238.7,1333.2 L1235.9,1336.1 L1233.1,1338.9 L1230.3,1341.8 L1227.5,1344.6 L1224.7,1347.5 L1221.9,1350.4 L1219.1,1353.2 L1216.3,1356.1 L1213.4,1358.9 L1210.6,1361.8 L1207.8,1364.6 L1205.0,1367.4 L1202.2,1370.3 L1199.3,1373.1 L1196.5,1376.0 L1193.7,1378.8 L1190.9,1381.6 L1188.0,1384.5 L1185.2,1387.3 L1182.4,1390.1 L1179.5,1392.9 L1176.7,1395.8 L1173.8,1398.6 L1171.0,1401.4 L1168.1,1404.2 L1165.3,1407.0 L1162.4,1409.8 L1159.6,1412.6 L1156.7,1415.4 L1153.9,1418.2 L1151.0,1421.1 L1148.1,1423.9 L1145.3,1426.6 L1142.4,1429.4 L1139.5,1432.2 L1136.7,1435.0 L1133.8,1437.8 L1130.9,1440.6 L1128.0,1443.4 L1125.2,1446.2 L1122.3,1449.0 L1119.4,1451.8 L1116.5,1454.6 L1113.6,1457.3 L1110.7,1460.1 L1107.9,1462.9 L1105.0,1465.7 L1102.1,1468.5 L1099.2,1471.2 L1096.3,1474.0 L1093.4,1476.8 L1090.5,1479.6 L1087.7,1482.4 L1084.8,1485.2 L1081.9,1487.9 L1079.0,1490.7 L1076.1,1493.5 L1073.2,1496.3 L1070.3,1499.1 L1067.4,1501.8 L1064.6,1504.6 L1061.7,1507.4 L1058.8,1510.2 L1055.9,1513.0 L1053.0,1515.8 L1050.1,1518.6 L1047.3,1521.4 L1044.4,1524.2 L1041.5,1526.9 L1038.6,1529.7 L1035.8,1532.5 L1032.9,1535.3 L1030.0,1538.1 L1027.1,1540.9 L1024.3,1543.7 L1021.4,1546.5 L1018.5,1549.4 L1015.7,1552.2 L1012.8,1555.0 L1010.0,1557.8 L1007.1,1560.6 L1004.3,1563.4 L1001.4,1566.3 L998.6,1569.1 L995.7,1571.9 L992.9,1574.7 L990.0,1577.6 L987.2,1580.4 L984.4,1583.3 L981.5,1586.1 L978.7,1589.0 L975.9,1591.8 L973.1,1594.7 L970.3,1597.5 L967.5,1600.4 L964.7,1603.3 L961.8,1606.1 L959.0,1609.0 L956.3,1611.9 L953.5,1614.8 L950.7,1617.7 L947.9,1620.6 L945.1,1623.5 L942.3,1626.4 L939.6,1629.3 L936.8,1632.2 L934.0,1635.1 L931.3,1638.0 L928.5,1640.9 L925.8,1643.9 L923.1,1646.8 L920.3,1649.8 L917.6,1652.7 L914.9,1655.6 L912.1,1658.6 L909.4,1661.6 L906.7,1664.5 L904.0,1667.5 L901.3,1670.5 L898.6,1673.4 L895.9,1676.4 L893.2,1679.4 L890.5,1682.4 L887.8,1685.4 L885.1,1688.3 L882.4,1691.3 L879.7,1694.3 L877.1,1697.3 L874.4,1700.3 L871.7,1703.3 L869.1,1706.3 L866.4,1709.3 L863.7,1712.3 L861.1,1715.4 L858.4,1718.4 L855.7,1721.4 L853.1,1724.4 L850.4,1727.4 L847.8,1730.4 L845.1,1733.4 L842.5,1736.5 L839.8,1739.5 L837.2,1742.5 L834.5,1745.5 L831.9,1748.6 L829.3,1751.6 L826.6,1754.6 L824.0,1757.6 L821.3,1760.7 L818.7,1763.7 L816.1,1766.7 L813.4,1769.7 L810.8,1772.8 L808.2,1775.8 L805.5,1778.8 L802.9,1781.8 L800.3,1784.9 L797.6,1787.9 L795.0,1790.9 L792.4,1793.9 L789.7,1796.9 L787.1,1800.0 L784.4,1803.0 L781.8,1806.0 L779.2,1809.0 L776.5,1812.0 L773.9,1815.0 L771.3,1818.0 L768.6,1821.0 L766.0,1824.1 L763.3,1827.1 L760.7,1830.1 L758.1,1833.1 L755.4,1836.0 L752.8,1839.0 L750.1,1842.0 L747.5,1845.0 L744.8,1848.0 L742.2,1851.0 L739.5,1854.0 L736.9,1856.9 L734.2,1859.9 L731.5,1862.9 L728.9,1865.8 L726.2,1868.8 L723.6,1871.8 L720.9,1874.7 L718.3,1877.7 L715.6,1880.6 L712.9,1883.6 L710.3,1886.5 L707.6,1889.5 L705.0,1892.4 L702.3,1895.4 L699.7,1898.3 L697.0,1901.2 L694.3,1904.2 L691.7,1907.1 L689.0,1910.0 L686.4,1913.0 L683.7,1915.9 L681.1,1918.8 L678.5,1921.7 L675.8,1924.6 L673.2,1927.6 L670.5,1930.5 L667.9,1933.4 L665.3,1936.3 L662.6,1939.2 L660.0,1942.1 L657.4,1945.0 L654.8,1947.9 L652.1,1950.8 L649.5,1953.7 L646.9,1956.6 L644.3,1959.5 L641.7,1962.4 L639.1,1965.3 L636.5,1968.2 L633.9,1971.1 L631.4,1974.0 L628.8,1976.9 L626.2,1979.8 L623.6,1982.6 L621.1,1985.5 L618.5,1988.4 L616.0,1991.3 L613.4,1994.2 L610.9,1997.1 L608.4,2000.0" stroke="#C00000"/><path d="M327.0,2000.0 L329.6,1997.0 L332.1,1994.0 L334.7,1990.9 L337.3,1987.9 L339.8,1984.9 L342.4,1981.9 L345.0,1978.9 L347.6,1975.9 L350.2,1972.9 L352.8,1969.9 L355.4,1966.8 L358.0,1963.8 L360.6,1960.8 L363.2,1957.8 L365.8,1954.8 L368.4,1951.8 L371.1,1948.9 L373.7,1945.9 L376.3,1942.9 L378.9,1939.9 L381.6,1936.9 L384.2,1933.9 L386.9,1930.9 L389.5,1928.0 L392.2,1925.0 L394.8,1922.0 L397.5,1919.0 L400.2,1916.1 L402.8,1913.1 L405.5,1910.1 L408.2,1907.2 L410.9,1904.2 L413.5,1901.3 L416.2,1898.3 L418.9,1895.4 L421.6,1892.4 L424.3,1889.5 L427.0,1886.5 L429.7,1883.6 L432.4,1880.6 L435.2,1877.7 L437.9,1874.8 L440.6,1871.8 L443.3,1868.9 L446.1,1866.0 L448.8,1863.1 L451.5,1860.2 L454.3,1857.2 L457.0,1854.3 L459.8,1851.4 L462.6,1848.5 L465.3,1845.6 L468.1,1842.7 L470.9,1839.8 L473.6,1836.9 L476.4,1834.0 L479.2,1831.2 L482.0,1828.3 L484.8,1825.4 L487.6,1822.5 L490.4,1819.6 L493.2,1816.8 L496.0,1813.9 L498.8,1811.1 L501.6,1808.2 L504.4,1805.3 L507.2,1802.5 L510.1,1799.6 L512.9,1796.8 L515.7,1794.0 L518.6,1791.1 L521.4,1788.3 L524.3,1785.5 L527.1,1782.6 L530.0,1779.8 L532.8,1777.0 L535.7,1774.2 L538.6,1771.4 L541.4,1768.6 L544.3,1765.8 L547.2,1763.0 L550.1,1760.2 L553.0,1757.4 L555.9,1754.6 L558.8,1751.9 L561.7,1749.1 L564.6,1746.3 L567.5,1743.5 L570.4,1740.8 L573.3,1738.0 L576.3,1735.3 L579.2,1732.5 L582.1,1729.8 L585.1,1727.0 L588.0,1724.3 L590.9,1721.6 L593.9,1718.9 L596.8,1716.1 L599.8,1713.4 L602.8,1710.7 L605.7,1708.0 L608.7,1705.3 L611.7,1702.6 L614.7,1699.9 L617.6,1697.2 L620.6,1694.6 L623.6,1691.9 L626.6,1689.2 L629.6,1686.5 L632.6,1683.9 L635.6,1681.2 L638.7,1678.6 L641.7,1675.9 L644.7,1673.3 L647.7,1670.6 L650.8,1668.0 L653.8,1665.4 L656.8,1662.8 L659.9,1660.2 L662.9,1657.5 L666.0,1654.9 L669.1,1652.3 L672.1,1649.8 L675.2,1647.2 L678.3,1644.6 L681.3,1642.0 L684.4,1639.4 L687.5,1636.9 L690.6,1634.3 L693.7,1631.8 L696.8,1629.2 L699.9,1626.7 L703.0,1624.1 L706.1,1621.6 L709.2,1619.1 L712.4,1616.6 L715.5,1614.1 L718.6,1611.5 L721.7,1609.0 L724.9,1606.6 L728.0,1604.1 L731.2,1601.6 L734.3,1599.1 L737.5,1596.6 L740.7,1594.2 L743.8,1591.7 L747.0,1589.3 L750.2,1586.8 L753.3,1584.4 L756.5,1582.0 L759.7,1579.5 L762.9,1577.1 L766.1,1574.7 L769.3,1572.3 L772.5,1569.9 L775.7,1567.5 L779.0,1565.1 L782.2,1562.7 L785.4,1560.4 L788.6,1558.0 L791.9,1555.6 L795.1,1553.3 L798.4,1550.9 L801.6,1548.6 L804.9,1546.3 L808.1,1543.9 L811.4,1541.6 L814.7,1539.3 L817.9,1537.0 L821.2,1534.7 L824.5,1532.4 L827.8,1530.1 L831.1,1527.8 L834.4,1525.6 L837.7,1523.3 L841.0,1521.1 L844.3,1518.8 L847.6,1516.6 L850.9,1514.3 L854.2,1512.1 L857.6,1509.9 L860.9,1507.7 L864.2,1505.5 L867.6,1503.3 L870.9,1501.1 L874.3,1498.9 L877.6,1496.7 L881.0,1494.6 L884.4,1492.4 L887.7,1490.3 L891.1,1488.1 L894.5,1486.0 L897.9,1483.9 L901.3,1481.7 L904.7,1479.6 L908.1,1477.5 L911.5,1475.4 L914.9,1473.3 L918.3,1471.3 L921.7,1469.2 L925.2,1467.1 L928.6,1465.1 L932.0,1463.0 L935.5,1461.0 L938.9,1458.9 L942.3,1456.9 L945.8,1454.9 L949.3,1452.9 L952.7,1450.9 L956.2,1448.9 L959.6,1446.9 L963.1,1444.9 L966.6,1442.9 L970.1,1441.0 L973.6,1439.0 L977.1,1437.1 L980.6,1435.1 L984.1,1433.2 L987.6,1431.2 L991.1,1429.3 L994.6,1427.4 L998.1,1425.5 L1001.6,1423.6 L1005.1,1421.6 L1008.7,1419.7 L1012.2,1417.9 L1015.7,1416.0 L1019.2,1414.1 L1022.8,1412.2 L1026.3,1410.3 L1029.9,1408.5 L1033.4,1406.6 L1037.0,1404.8 L1040.5,1402.9 L1044.1,1401.1 L1047.7,1399.2 L1051.2,1397.4 L1054.8,1395.6 L1058.4,1393.8 L1061.9,1391.9 L1065.5,1390.1 L1069.1,1388.3 L1072.7,1386.5 L1076.3,1384.7 L1079.9,1382.9 L1083.4,1381.1 L1087.0,1379.4 L1090.6,1377.6 L1094.2,1375.8 L1097.8,1374.0 L1101.4,1372.3 L1105.0,1370.5 L1108.7,1368.7 L1112.3,1367.0 L1115.9,1365.2 L1119.5,1363.5 L1123.1,1361.7 L1126.7,1360.0 L1130.3,1358.2 L1134.0,1356.5 L1137.6,1354.8 L1141.2,1353.0 L1144.9,1351.3 L1148.5,1349.6 L1152.1,1347.9 L1155.8,1346.1 L1159.4,1344.4 L1163.0,1342.7 L1166.7,1341.0 L1170.3,1339.3 L1174.0,1337.6 L1177.6,1335.9 L1181.2,1334.2 L1184.9,1332.5 L1188.5,1330.8 L1192.2,1329.1 L1195.8,1327.4 L1199.5,1325.7 L1203.1,1324.0 L1206.8,1322.3 L1210.5,1320.6 L1214.1,1319.0 L1217.8,1317.3 L1221.4,1315.6 L1225.1,1313.9 L1228.7,1312.2 L1232.4,1310.5 L1236.1,1308.9 L1239.7,1307.2 L1243.4,1305.5 L1247.1,1303.8 L1250.7,1302.2 L1254.4,1300.5 L1258.0,1298.8 L1261.7,1297.1 L1265.4,1295.5 L1269.0,1293.8 L1272.7,1292.1 L1276.4,1290.5 L1280.0,1288.8 L1283.7,1287.1 L1287.4,1285.4 L1291.0,1283.8 L1294.7,1282.1 L1298.4,1280.4 L1302.0,1278.7 L1305.7,1277.1 L1309.4,1275.4 L1313.0,1273.7 L1316.7,1272.0 L1320.4,1270.4 L1324.0,1268.7 L1327.7,1267.0 L1331.4,1265.3 L1335.0,1263.7 L1338.7,1262.0 L1342.3,1260.3 L1346.0,1258.6 L1349.7,1256.9 L1353.3,1255.3 L1357.0,1253.6 L1360.7,1251.9 L1364.3,1250.2 L1368.0,1248.5 L1371.6,1246.9 L1375.3,1245.2 L1379.0,1243.5 L1382.6,1241.8 L1386.3,1240.2 L1390.0,1238.5 L1393.6,1236.8 L1397.3,1235.2 L1400.9,1233.5 L1404.6,1231.9 L1408.3,1230.2 L1411.9,1228.6 L1415.6,1226.9 L1419.3,1225.3 L1423.0,1223.6 L1426.6,1222.0 L1430.3,1220.4 L1434.0,1218.7 L1437.6,1217.1 L1441.3,1215.5 L1445.0,1213.9 L1448.7,1212.3 L1452.3,1210.7 L1456.0,1209.1 L1459.7,1207.5 L1463.4,1205.9 L1467.1,1204.3 L1470.8,1202.8 L1474.4,1201.2 L1478.1,1199.6 L1481.8,1198.1 L1485.5,1196.5 L1489.2,1195.0 L1492.9,1193.5 L1496.6,1192.0 L1500.3,1190.4 L1504.0,1188.9 L1507.7,1187.4 L1511.4,1185.9 L1515.1,1184.5 L1518.8,1183.0 L1522.5,1181.5 L1526.2,1180.1 L1530.0,1178.6 L1533.7,1177.2 L1537.4,1175.8 L1541.1,1174.4 L1544.9,1172.9 L1548.6,1171.6 L1552.3,1170.2 L1556.0,1168.8 L1559.8,1167.4 L1563.5,1166.1 L1567.3,1164.7 L1571.0,1163.4 L1574.8,1162.1 L1578.5,1160.8 L1582.3,1159.5 L1586.0,1158.2 L1589.8,1156.9 L1593.5,1155.7 L1597.3,1154.4 L1601.1,1153.2 L1604.9,1152.0 L1608.6,1150.8 L1612.4,1149.6 L1616.2,1148.4 L1620.0,1147.2 L1623.8,1146.1 L1627.6,1145.0 L1631.4,1143.8 L1635.2,1142.7 L1639.0,1141.6 L1642.8,1140.6 L1646.6,1139.5 L1650.4,1138.4 L1654.2,1137.4 L1658.1,1136.4 L1661.9,1135.4 L1665.7,1134.4 L1669.6,1133.4 L1673.4,1132.5 L1677.3,1131.5 L1681.1,1130.6 L1685.0,1129.7 L1688.8,1128.8 L1692.7,1127.8 L1696.5,1126.9 L1700.4,1126.0 L1704.2,1125.2 L1708.1,1124.3 L1712.0,1123.4 L1715.8,1122.5 L1719.7,1121.6 L1723.6,1120.7 L1727.4,1119.9 L1731.3,1119.0 L1735.2,1118.1 L1739.0,1117.2 L1742.9,1116.3 L1746.7,1115.4 L1750.6,1114.5 L1754.5,1113.6 L1758.3,1112.7 L1762.2,1111.8 L1766.0,1110.8 L1769.9,1109.9 L1773.7,1108.9 L1777.6,1108.0 L1781.4,1107.0 L1785.3,1106.0 L1789.1,1105.0 L1792.9,1103.9 L1796.8,1102.9 L1800.6,1101.8 L1804.4,1100.8 L1808.2,1099.7 L1812.1,1098.6 L1815.9,1097.5 L1819.7,1096.3 L1823.5,1095.2 L1827.3,1094.0 L1831.1,1092.9 L1834.9,1091.7 L1838.7,1090.5 L1842.5,1089.3 L1846.3,1088.1 L1850.1,1086.9 L1853.9,1085.7 L1857.7,1084.5 L1861.5,1083.3 L1865.3,1082.0 L1869.1,1080.8 L1872.9,1079.6 L1876.7,1078.3 L1880.5,1077.1 L1884.3,1075.8 L1888.1,1074.6 L1891.9,1073.3 L1895.7,1072.0 L1899.5,1070.8 L1903.3,1069.5 L1907.1,1068.3 L1910.9,1067.0 L1914.8,1065.7 L1918.6,1064.5 L1922.4,1063.2 L1926.2,1062.0 L1930.0,1060.7 L1933.8,1059.4 L1937.6,1058.2 L1941.5,1057.0 L1945.3,1055.7 L1949.1,1054.5 L1952.9,1053.3 L1956.8,1052.0 L1960.6,1050.8 L1964.5,1049.6 L1968.3,1048.4 L1972.1,1047.3 L1976.0,1046.1 L1979.9,1044.9 L1983.7,1043.7 L1987.6,1042.6 L1991.5,1041.5 L1995.3,1040.3 L1992.3,1043.0 L1989.3,1045.7 L1986.3,1048.4 L1983.3,1051.0 L1980.3,1053.7 L1977.3,1056.3 L1974.2,1059.0 L1971.2,1061.6 L1968.2,1064.2 L1965.1,1066.9 L1962.1,1069.5 L1959.0,1072.1 L1956.0,1074.7 L1952.9,1077.3 L1949.8,1079.8 L1946.7,1082.4 L1943.7,1085.0 L1940.6,1087.5 L1937.5,1090.1 L1934.4,1092.6 L1931.3,1095.2 L1928.2,1097.7 L1925.1,1100.2 L1922.0,1102.7 L1918.8,1105.2 L1915.7,1107.7 L1912.6,1110.2 L1909.5,1112.7 L1906.3,1115.2 L1903.2,1117.7 L1900.0,1120.2 L1896.9,1122.6 L1893.7,1125.1 L1890.6,1127.5 L1887.4,1130.0 L1884.2,1132.4 L1881.0,1134.8 L1877.9,1137.3 L1874.7,1139.7 L1871.5,1142.1 L1868.3,1144.5 L1865.1,1146.9 L1861.9,1149.3 L1858.7,1151.7 L1855.5,1154.0 L1852.3,1156.4 L1849.1,1158.8 L1845.8,1161.1 L1842.6,1163.5 L1839.4,1165.8 L1836.1,1168.2 L1832.9,1170.5 L1829.7,1172.9 L1826.4,1175.2 L1823.2,1177.5 L1819.9,1179.8 L1816.7,1182.1 L1813.4,1184.4 L1810.1,1186.7 L1806.9,1189.0 L1803.6,1191.3 L1800.3,1193.6 L1797.0,1195.9 L1793.7,1198.1 L1790.4,1200.4 L1787.1,1202.7 L1783.9,1204.9 L1780.6,1207.2 L1777.2,1209.4 L1773.9,1211.6 L1770.6,1213.9 L1767.3,1216.1 L1764.0,1218.3 L1760.7,1220.5 L1757.4,1222.8 L1754.0,1225.0 L1750.7,1227.2 L1747.4,1229.4 L1744.0,1231.6 L1740.7,1233.8 L1737.3,1235.9 L1734.0,1238.1 L1730.6,1240.3 L1727.3,1242.5 L1723.9,1244.6 L1720.6,1246.8 L1717.2,1248.9 L1713.8,1251.1 L1710.5,1253.2 L1707.1,1255.4 L1703.7,1257.5 L1700.3,1259.7 L1696.9,1261.8 L1693.6,1263.9 L1690.2,1266.0 L1686.8,1268.2 L1683.4,1270.3 L1680.0,1272.4 L1676.6,1274.5 L1673.2,1276.6 L1669.8,1278.7 L1666.4,1280.8 L1663.0,1282.9 L1659.5,1285.0 L1656.1,1287.1 L1652.7,1289.1 L1649.3,1291.2 L1645.9,1293.3 L1642.4,1295.3 L1639.0,1297.4 L1635.6,1299.5 L1632.1,1301.5 L1628.7,1303.6 L1625.3,1305.6 L1621.8,1307.7 L1618.4,1309.7 L1614.9,1311.8 L1611.5,1313.8 L1608.0,1315.8 L1604.6,1317.9 L1601.1,1319.9 L1597.7,1321.9 L1594.2,1323.9 L1590.8,1326.0 L1587.3,1328.0 L1583.8,1330.0 L1580.4,1332.0 L1576.9,1334.0 L1573.4,1336.0 L1569.9,1338.0 L1566.5,1340.0 L1563.0,1342.0 L1559.5,1344.0 L1556.0,1346.0 L1552.6,1348.0 L1549.1,1350.0 L1545.6,1351.9 L1542.1,1353.9 L1538.6,1355.9 L1535.1,1357.9 L1531.6,1359.8 L1528.1,1361.8 L1524.6,1363.8 L1521.1,1365.8 L1517.6,1367.7 L1514.1,1369.7 L1510.6,1371.6 L1507.1,1373.6 L1503.6,1375.5 L1500.1,1377.5 L1496.6,1379.5 L1493.1,1381.4 L1489.6,1383.3 L1486.1,1385.3 L1482.5,1387.2 L1479.0,1389.2 L1475.5,1391.1 L1472.0,1393.1 L1468.5,1395.0 L1465.0,1396.9 L1461.4,1398.9 L1457.9,1400.8 L1454.4,1402.7 L1450.9,1404.7 L1447.3,1406.6 L1443.8,1408.5 L1440.3,1410.4 L1436.8,1412.4 L1433.2,1414.3 L1429.7,1416.2 L1426.2,1418.1 L1422.6,1420.0 L1419.1,1422.0 L1415.6,1423.9 L1412.0,1425.8 L1408.5,1427.7 L1405.0,1429.6 L1401.4,1431.5 L1397.9,1433.4 L1394.3,1435.4 L1390.8,1437.3 L1387.3,1439.2 L1383.7,1441.1 L1380.2,1443.0 L1376.7,1444.9 L1373.1,1446.8 L1369.6,1448.7 L1366.0,1450.6 L1362.5,1452.5 L1358.9,1454.4 L1355.4,1456.3 L1351.9,1458.2 L1348.3,1460.1 L1344.8,1462.0 L1341.2,1463.9 L1337.7,1465.8 L1334.1,1467.7 L1330.6,1469.6 L1327.0,1471.5 L1323.5,1473.4 L1320.0,1475.4 L1316.4,1477.3 L1312.9,1479.2 L1309.3,1481.1 L1305.8,1483.0 L1302.2,1484.9 L1298.7,1486.8 L1295.1,1488.7 L1291.6,1490.6 L1288.1,1492.5 L1284.5,1494.4 L1281.0,1496.3 L1277.4,1498.2 L1273.9,1500.1 L1270.3,1502.0 L1266.8,1503.9 L1263.2,1505.8 L1259.7,1507.7 L1256.2,1509.6 L1252.6,1511.5 L1249.1,1513.4 L1245.5,1515.4 L1242.0,1517.3 L1238.5,1519.2 L1234.9,1521.1 L1231.4,1523.0 L1227.8,1524.9 L1224.3,1526.8 L1220.8,1528.8 L1217.2,1530.7 L1213.7,1532.6 L1210.2,1534.5 L1206.6,1536.4 L1203.1,1538.4 L1199.6,1540.3 L1196.0,1542.2 L1192.5,1544.1 L1189.0,1546.1 L1185.5,1548.0 L1181.9,1549.9 L1178.4,1551.9 L1174.9,1553.8 L1171.4,1555.7 L1167.8,1557.7 L1164.3,1559.6 L1160.8,1561.5 L1157.3,1563.5 L1153.8,1565.4 L1150.2,1567.4 L1146.7,1569.3 L1143.2,1571.3 L1139.7,1573.2 L1136.2,1575.2 L1132.7,1577.1 L1129.2,1579.1 L1125.7,1581.1 L1122.2,1583.0 L1118.7,1585.0 L1115.1,1587.0 L1111.6,1588.9 L1108.1,1590.9 L1104.6,1592.9 L1101.1,1594.8 L1097.7,1596.8 L1094.2,1598.8 L1090.7,1600.8 L1087.2,1602.8 L1083.7,1604.8 L1080.2,1606.8 L1076.7,1608.7 L1073.2,1610.7 L1069.7,1612.7 L1066.3,1614.7 L1062.8,1616.7 L1059.3,1618.7 L1055.8,1620.8 L1052.4,1622.8 L1048.9,1624.8 L1045.4,1626.8 L1042.0,1628.8 L1038.5,1630.8 L1035.0,1632.9 L1031.6,1634.9 L1028.1,1636.9 L1024.6,1639.0 L1021.2,1641.0 L1017.7,1643.0 L1014.3,1645.1 L1010.8,1647.1 L1007.4,1649.2 L1003.9,1651.2 L1000.5,1653.3 L997.1,1655.3 L993.6,1657.4 L990.2,1659.5 L986.7,1661.5 L983.3,1663.6 L979.9,1665.7 L976.5,1667.7 L973.0,1669.8 L969.6,1671.9 L966.2,1674.0 L962.8,1676.1 L959.4,1678.2 L955.9,1680.3 L952.5,1682.4 L949.1,1684.5 L945.7,1686.6 L942.3,1688.7 L938.9,1690.8 L935.5,1692.9 L932.1,1695.1 L928.7,1697.2 L925.3,1699.3 L922.0,1701.5 L918.6,1703.6 L915.2,1705.7 L911.8,1707.9 L908.4,1710.0 L905.1,1712.2 L901.7,1714.4 L898.3,1716.5 L895.0,1718.7 L891.6,1720.9 L888.2,1723.0 L884.9,1725.2 L881.5,1727.4 L878.2,1729.6 L874.8,1731.8 L871.5,1734.0 L868.2,1736.2 L864.8,1738.4 L861.5,1740.6 L858.2,1742.8 L854.8,1745.0 L851.5,1747.2 L848.2,1749.5 L844.9,1751.7 L841.5,1753.9 L838.2,1756.2 L834.9,1758.4 L831.6,1760.7 L828.3,1762.9 L825.0,1765.2 L821.7,1767.4 L818.4,1769.7 L815.1,1772.0 L811.9,1774.3 L808.6,1776.5 L805.3,1778.8 L802.0,1781.1 L798.8,1783.4 L795.5,1785.7 L792.2,1788.0 L789.0,1790.3 L785.7,1792.7 L782.4,1795.0 L779.2,1797.3 L776.0,1799.7 L772.7,1802.0 L769.5,1804.3 L766.2,1806.7 L763.0,1809.0 L759.8,1811.4 L756.6,1813.8 L753.3,1816.1 L750.1,1818.5 L746.9,1820.9 L743.7,1823.3 L740.5,1825.7 L737.3,1828.1 L734.1,1830.5 L730.9,1832.9 L727.7,1835.3 L724.5,1837.7 L721.4,1840.1 L718.2,1842.6 L715.0,1845.0 L711.8,1847.4 L708.7,1849.9 L705.5,1852.3 L702.4,1854.8 L699.2,1857.3 L696.1,1859.7 L692.9,1862.2 L689.8,1864.7 L686.7,1867.2 L683.5,1869.7 L680.4,1872.2 L677.3,1874.7 L674.2,1877.2 L671.1,1879.7 L667.9,1882.3 L664.8,1884.8 L661.7,1887.3 L658.6,1889.9 L655.6,1892.4 L652.5,1895.0 L649.4,1897.6 L646.3,1900.1 L643.2,1902.7 L640.2,1905.3 L637.1,1907.9 L634.1,1910.5 L631.0,1913.1 L628.0,1915.7 L624.9,1918.3 L621.9,1920.9 L618.8,1923.6 L615.8,1926.2 L612.8,1928.8 L609.8,1931.5 L606.8,1934.1 L603.8,1936.8 L600.7,1939.5 L597.8,1942.1 L594.8,1944.8 L591.8,1947.5 L588.8,1950.2 L585.8,1952.9 L582.8,1955.6 L579.9,1958.4 L576.9,1961.1 L573.9,1963.8 L571.0,1966.6 L568.0,1969.3 L565.1,1972.1 L562.2,1974.8 L559.2,1977.6 L556.3,1980.4 L553.4,1983.1 L550.5,1985.9 L547.5,1988.7 L544.6,1991.5 L541.7,1994.4 L538.8,1997.2 L536.0,2000.0" stroke="#FFC000"/><path d="M327.0,2000.0 L329.6,1996.9 L332.2,1993.8 L334.7,1990.7 L337.2,1987.6 L339.7,1984.4 L342.2,1981.3 L344.6,1978.1 L347.1,1974.9 L349.5,1971.7 L351.8,1968.5 L354.2,1965.2 L356.5,1962.0 L358.9,1958.7 L361.2,1955.5 L363.5,1952.2 L365.7,1948.9 L368.0,1945.6 L370.2,1942.3 L372.4,1938.9 L374.6,1935.6 L376.8,1932.2 L378.9,1928.9 L381.1,1925.5 L383.2,1922.1 L385.3,1918.7 L387.4,1915.3 L389.5,1911.9 L391.5,1908.4 L393.6,1905.0 L395.6,1901.6 L397.7,1898.1 L399.7,1894.6 L401.7,1891.2 L403.7,1887.7 L405.6,1884.2 L407.6,1880.7 L409.5,1877.2 L411.5,1873.7 L413.4,1870.2 L415.3,1866.6 L417.3,1863.1 L419.2,1859.6 L421.0,1856.0 L422.9,1852.5 L424.8,1848.9 L426.7,1845.4 L428.5,1841.8 L430.4,1838.2 L432.2,1834.7 L434.1,1831.1 L435.9,1827.5 L437.7,1823.9 L439.6,1820.4 L441.4,1816.8 L443.2,1813.2 L445.0,1809.6 L446.8,1806.0 L448.6,1802.4 L450.4,1798.8 L452.2,1795.2 L454.0,1791.6 L455.8,1788.0 L457.6,1784.4 L459.4,1780.8 L461.2,1777.2 L463.0,1773.5 L464.8,1769.9 L466.6,1766.3 L468.4,1762.7 L470.2,1759.1 L472.0,1755.5 L473.8,1751.9 L475.6,1748.3 L477.4,1744.7 L479.2,1741.1 L481.0,1737.5 L482.8,1733.9 L484.6,1730.3 L486.4,1726.8 L488.3,1723.2 L490.1,1719.6 L491.9,1716.0 L493.8,1712.5 L495.6,1708.9 L497.5,1705.3 L499.3,1701.8 L501.2,1698.2 L503.1,1694.7 L505.0,1691.1 L506.9,1687.6 L508.8,1684.1 L510.7,1680.6 L512.6,1677.0 L514.6,1673.5 L516.5,1670.0 L518.5,1666.5 L520.4,1663.0 L522.4,1659.6 L524.4,1656.1 L526.4,1652.6 L528.4,1649.1 L530.4,1645.7 L532.4,1642.2 L534.4,1638.8 L536.4,1635.3 L538.5,1631.9 L540.5,1628.5 L542.6,1625.0 L544.6,1621.6 L546.7,1618.2 L548.8,1614.8 L550.9,1611.4 L553.0,1608.0 L555.1,1604.6 L557.2,1601.2 L559.3,1597.8 L561.4,1594.4 L563.6,1591.0 L565.7,1587.6 L567.8,1584.3 L570.0,1580.9 L572.1,1577.6 L574.3,1574.2 L576.5,1570.9 L578.7,1567.5 L580.9,1564.2 L583.0,1560.8 L585.2,1557.5 L587.5,1554.2 L589.7,1550.8 L591.9,1547.5 L594.1,1544.2 L596.3,1540.9 L598.6,1537.6 L600.8,1534.3 L603.1,1531.0 L605.3,1527.7 L607.6,1524.4 L609.8,1521.1 L612.1,1517.8 L614.4,1514.5 L616.7,1511.2 L618.9,1508.0 L621.2,1504.7 L623.5,1501.4 L625.8,1498.2 L628.1,1494.9 L630.5,1491.6 L632.8,1488.4 L635.1,1485.1 L637.4,1481.9 L639.7,1478.6 L642.1,1475.4 L644.4,1472.1 L646.7,1468.9 L649.1,1465.6 L651.4,1462.4 L653.8,1459.2 L656.2,1455.9 L658.5,1452.7 L660.9,1449.5 L663.2,1446.2 L665.6,1443.0 L668.0,1439.8 L670.4,1436.6 L672.7,1433.4 L675.1,1430.1 L677.5,1426.9 L679.9,1423.7 L682.3,1420.5 L684.7,1417.3 L687.1,1414.1 L689.5,1410.9 L691.9,1407.7 L694.3,1404.5 L696.7,1401.3 L699.1,1398.1 L701.5,1394.9 L704.0,1391.7 L706.4,1388.5 L708.8,1385.3 L711.2,1382.1 L713.6,1378.9 L716.1,1375.7 L718.5,1372.5 L720.9,1369.3 L723.4,1366.1 L725.8,1362.9 L728.2,1359.8 L730.7,1356.6 L733.1,1353.4 L735.5,1350.2 L738.0,1347.0 L740.4,1343.8 L742.9,1340.7 L745.3,1337.5 L747.8,1334.3 L750.2,1331.1 L752.7,1328.0 L755.2,1324.8 L757.6,1321.6 L760.1,1318.5 L762.6,1315.3 L765.0,1312.2 L767.5,1309.0 L770.0,1305.8 L772.5,1302.7 L775.0,1299.6 L777.5,1296.4 L780.0,1293.3 L782.5,1290.2 L785.0,1287.0 L787.5,1283.9 L790.0,1280.8 L792.6,1277.7 L795.1,1274.6 L797.6,1271.5 L800.2,1268.4 L802.7,1265.3 L805.3,1262.2 L807.8,1259.1 L810.4,1256.0 L813.0,1252.9 L815.6,1249.9 L818.1,1246.8 L820.7,1243.8 L823.3,1240.7 L825.9,1237.7 L828.5,1234.6 L831.2,1231.6 L833.8,1228.6 L836.4,1225.6 L839.1,1222.6 L841.7,1219.6 L844.4,1216.6 L847.0,1213.6 L849.7,1210.6 L852.4,1207.6 L855.1,1204.7 L857.8,1201.7 L860.5,1198.8 L863.2,1195.8 L865.9,1192.9 L868.6,1190.0 L871.4,1187.0 L874.1,1184.1 L876.9,1181.2 L879.6,1178.4 L882.4,1175.5 L885.2,1172.6 L888.0,1169.7 L890.8,1166.9 L893.6,1164.0 L896.4,1161.2 L899.3,1158.4 L902.1,1155.6 L905.0,1152.8 L907.8,1150.0 L910.7,1147.2 L913.6,1144.4 L916.5,1141.7 L919.4,1138.9 L922.3,1136.2 L925.2,1133.4 L928.2,1130.7 L931.1,1128.0 L934.1,1125.3 L937.0,1122.6 L940.0,1120.0 L943.0,1117.3 L946.0,1114.6 L949.0,1112.0 L952.0,1109.4 L955.0,1106.7 L958.1,1104.1 L961.1,1101.5 L964.2,1098.9 L967.2,1096.4 L970.3,1093.8 L973.4,1091.2 L976.5,1088.7 L979.6,1086.2 L982.7,1083.7 L985.8,1081.2 L988.9,1078.7 L992.1,1076.2 L995.2,1073.7 L998.4,1071.2 L1001.6,1068.8 L1004.7,1066.4 L1007.9,1063.9 L1011.1,1061.5 L1014.3,1059.1 L1017.5,1056.8 L1020.8,1054.4 L1024.0,1052.0 L1027.2,1049.7 L1030.5,1047.3 L1033.7,1045.0 L1037.0,1042.7 L1040.3,1040.4 L1043.6,1038.1 L1046.9,1035.9 L1050.2,1033.6 L1053.5,1031.4 L1056.8,1029.1 L1060.2,1026.9 L1063.5,1024.7 L1066.9,1022.5 L1070.2,1020.3 L1073.6,1018.2 L1077.0,1016.0 L1080.4,1013.9 L1083.8,1011.8 L1087.2,1009.7 L1090.6,1007.6 L1094.0,1005.5 L1097.4,1003.4 L1100.9,1001.4 L1104.3,999.3 L1107.8,997.3 L1111.2,995.3 L1114.7,993.3 L1118.2,991.3 L1121.7,989.3 L1125.2,987.3 L1128.7,985.4 L1132.2,983.4 L1135.7,981.5 L1139.2,979.5 L1142.7,977.6 L1146.2,975.7 L1149.7,973.7 L1153.2,971.8 L1156.7,969.9 L1160.2,967.9 L1163.7,966.0 L1167.3,964.1 L1170.8,962.1 L1174.3,960.2 L1177.8,958.3 L1181.3,956.3 L1184.8,954.4 L1188.3,952.4 L1191.8,950.4 L1195.2,948.5 L1198.7,946.5 L1202.2,944.5 L1205.6,942.5 L1209.1,940.5 L1212.5,938.5 L1216.0,936.4 L1219.4,934.4 L1222.9,932.4 L1226.3,930.3 L1229.7,928.3 L1233.2,926.2 L1236.6,924.2 L1240.0,922.1 L1243.4,920.1 L1246.8,918.0 L1250.3,915.9 L1253.7,913.9 L1257.1,911.8 L1260.5,909.8 L1264.0,907.7 L1267.4,905.7 L1270.8,903.6 L1274.2,901.6 L1277.7,899.6 L1281.1,897.5 L1284.5,895.5 L1288.0,893.5 L1291.4,891.5 L1294.9,889.5 L1298.3,887.5 L1301.8,885.5 L1305.3,883.6 L1308.7,881.6 L1312.2,879.7 L1315.7,877.8 L1319.2,875.8 L1322.7,873.9 L1326.2,872.1 L1329.7,870.2 L1333.3,868.3 L1336.8,866.5 L1340.4,864.7 L1343.9,862.9 L1347.5,861.1 L1351.1,859.3 L1354.7,857.5 L1358.2,855.8 L1361.8,854.0 L1365.5,852.3 L1369.1,850.5 L1372.7,848.8 L1376.3,847.1 L1379.9,845.4 L1383.6,843.8 L1387.2,842.1 L1390.9,840.4 L1394.5,838.8 L1398.2,837.1 L1401.8,835.5 L1405.5,833.8 L1409.1,832.2 L1412.8,830.6 L1416.5,829.0 L1420.2,827.3 L1423.8,825.7 L1427.5,824.1 L1431.2,822.5 L1434.9,820.9 L1438.6,819.3 L1442.3,817.7 L1446.0,816.1 L1449.7,814.5 L1453.3,813.0 L1457.0,811.4 L1460.7,809.8 L1464.4,808.2 L1468.1,806.6 L1471.8,805.0 L1475.5,803.4 L1479.2,801.8 L1482.9,800.2 L1486.6,798.6 L1490.3,797.0 L1493.9,795.4 L1497.6,793.8 L1501.3,792.2 L1505.0,790.5 L1508.7,788.9 L1512.3,787.3 L1516.0,785.6 L1519.7,784.0 L1523.3,782.3 L1527.0,780.7 L1530.6,779.0 L1534.3,777.3 L1537.9,775.6 L1541.6,773.9 L1545.2,772.2 L1548.8,770.5 L1552.4,768.8 L1556.0,767.1 L1559.7,765.3 L1563.3,763.5 L1566.8,761.8 L1570.4,760.0 L1574.0,758.2 L1577.6,756.4 L1581.1,754.5 L1584.7,752.7 L1588.3,750.9 L1591.8,749.0 L1595.4,747.2 L1598.9,745.3 L1602.4,743.5 L1606.0,741.6 L1609.5,739.8 L1613.0,737.9 L1616.6,736.0 L1620.1,734.2 L1623.6,732.3 L1627.1,730.4 L1630.6,728.6 L1634.2,726.7 L1637.7,724.8 L1641.2,723.0 L1644.7,721.1 L1648.2,719.3 L1651.7,717.5 L1655.2,715.6 L1658.8,713.8 L1662.3,712.0 L1665.8,710.2 L1669.3,708.5 L1672.9,706.7 L1676.4,705.0 L1679.9,703.2 L1683.5,701.5 L1687.0,699.8 L1690.6,698.1 L1694.2,696.5 L1697.8,694.8 L1701.3,693.2 L1704.9,691.6 L1708.5,690.1 L1712.2,688.5 L1715.8,687.0 L1719.4,685.5 L1723.1,684.1 L1726.7,682.6 L1730.4,681.2 L1734.1,679.8 L1737.8,678.5 L1741.5,677.1 L1745.2,675.8 L1748.9,674.5 L1752.6,673.2 L1756.4,671.9 L1760.1,670.6 L1763.8,669.3 L1767.6,668.1 L1771.3,666.8 L1775.1,665.6 L1778.9,664.4 L1782.6,663.2 L1786.4,661.9 L1790.2,660.7 L1794.0,659.5 L1797.8,658.3 L1801.6,657.1 L1805.3,655.8 L1809.1,654.6 L1812.9,653.4 L1816.7,652.2 L1820.5,650.9 L1824.3,649.7 L1828.1,648.4 L1831.9,647.2 L1835.7,645.9 L1839.5,644.6 L1843.3,643.3 L1847.0,642.0 L1850.8,640.7 L1854.6,639.4 L1858.4,638.1 L1862.1,636.7 L1865.9,635.4 L1869.7,634.0 L1873.4,632.6 L1877.2,631.2 L1880.9,629.8 L1884.7,628.4 L1888.4,626.9 L1892.1,625.4 L1895.8,623.9 L1899.6,622.4 L1903.3,620.9 L1906.9,619.3 L1910.6,617.8 L1914.3,616.2 L1918.0,614.5 L1921.6,612.9 L1925.3,611.2 L1928.9,609.5 L1932.5,607.8 L1936.1,606.0 L1939.7,604.3 L1943.3,602.5 L1946.9,600.6 L1950.5,598.8 L1954.0,596.9 L1957.5,594.9 L1961.0,593.0 L1964.5,591.0 L1968.0,589.0 L1971.5,586.9 L1975.0,584.8 L1978.4,582.7 L1981.8,580.5 L1985.2,578.3 L1988.6,576.1 L1992.0,573.8 L1995.3,571.5 L1993.9,575.3 L1992.3,579.2 L1990.8,583.0 L1989.2,586.8 L1987.7,590.5 L1986.0,594.3 L1984.4,598.0 L1982.7,601.7 L1981.0,605.4 L1979.3,609.0 L1977.6,612.7 L1975.8,616.3 L1974.0,619.9 L1972.2,623.5 L1970.3,627.1 L1968.5,630.6 L1966.6,634.2 L1964.7,637.7 L1962.7,641.2 L1960.8,644.7 L1958.8,648.2 L1956.8,651.6 L1954.7,655.1 L1952.7,658.5 L1950.6,661.9 L1948.5,665.3 L1946.4,668.6 L1944.3,672.0 L1942.1,675.3 L1939.9,678.7 L1937.7,682.0 L1935.5,685.3 L1933.3,688.5 L1931.0,691.8 L1928.7,695.1 L1926.4,698.3 L1924.1,701.5 L1921.8,704.8 L1919.4,708.0 L1917.1,711.1 L1914.7,714.3 L1912.3,717.5 L1909.9,720.6 L1907.5,723.8 L1905.0,726.9 L1902.5,730.0 L1900.1,733.1 L1897.6,736.2 L1895.1,739.3 L1892.5,742.3 L1890.0,745.4 L1887.4,748.5 L1884.9,751.5 L1882.3,754.5 L1879.7,757.5 L1877.1,760.5 L1874.5,763.5 L1871.9,766.5 L1869.2,769.5 L1866.6,772.5 L1863.9,775.4 L1861.2,778.4 L1858.5,781.3 L1855.8,784.3 L1853.1,787.2 L1850.4,790.1 L1847.7,793.0 L1844.9,796.0 L1842.2,798.9 L1839.4,801.7 L1836.7,804.6 L1833.9,807.5 L1831.1,810.4 L1828.3,813.3 L1825.5,816.1 L1822.7,819.0 L1819.9,821.8 L1817.1,824.7 L1814.3,827.5 L1811.4,830.3 L1808.6,833.2 L1805.7,836.0 L1802.9,838.8 L1800.0,841.7 L1797.2,844.5 L1794.3,847.3 L1791.5,850.1 L1788.6,852.9 L1785.7,855.7 L1782.8,858.5 L1779.9,861.3 L1777.1,864.1 L1774.2,866.9 L1771.3,869.7 L1768.4,872.5 L1765.5,875.2 L1762.6,878.0 L1759.7,880.8 L1756.8,883.6 L1753.9,886.4 L1751.0,889.2 L1748.1,892.0 L1745.2,894.7 L1742.3,897.5 L1739.4,900.3 L1736.5,903.1 L1733.7,905.9 L1730.8,908.6 L1727.9,911.4 L1725.0,914.2 L1722.1,917.0 L1719.2,919.8 L1716.3,922.6 L1713.4,925.3 L1710.5,928.1 L1707.6,930.9 L1704.7,933.7 L1701.8,936.5 L1698.9,939.2 L1696.0,942.0 L1693.1,944.8 L1690.2,947.6 L1687.3,950.4 L1684.4,953.1 L1681.6,955.9 L1678.7,958.7 L1675.8,961.5 L1672.9,964.3 L1670.0,967.1 L1667.1,969.8 L1664.2,972.6 L1661.3,975.4 L1658.4,978.2 L1655.6,981.0 L1652.7,983.8 L1649.8,986.6 L1646.9,989.4 L1644.0,992.1 L1641.2,994.9 L1638.3,997.7 L1635.4,1000.5 L1632.5,1003.3 L1629.7,1006.1 L1626.8,1008.9 L1623.9,1011.7 L1621.0,1014.5 L1618.2,1017.3 L1615.3,1020.1 L1612.4,1022.9 L1609.6,1025.7 L1606.7,1028.5 L1603.8,1031.3 L1601.0,1034.1 L1598.1,1036.9 L1595.3,1039.7 L1592.4,1042.5 L1589.5,1045.3 L1586.7,1048.1 L1583.8,1050.9 L1581.0,1053.8 L1578.1,1056.6 L1575.3,1059.4 L1572.5,1062.2 L1569.6,1065.0 L1566.8,1067.8 L1563.9,1070.7 L1561.1,1073.5 L1558.3,1076.3 L1555.4,1079.1 L1552.6,1082.0 L1549.8,1084.8 L1546.9,1087.6 L1544.1,1090.5 L1541.3,1093.3 L1538.4,1096.1 L1535.6,1098.9 L1532.8,1101.8 L1530.0,1104.6 L1527.1,1107.4 L1524.3,1110.3 L1521.5,1113.1 L1518.7,1115.9 L1515.8,1118.8 L1513.0,1121.6 L1510.2,1124.4 L1507.4,1127.3 L1504.5,1130.1 L1501.7,1132.9 L1498.9,1135.8 L1496.1,1138.6 L1493.2,1141.4 L1490.4,1144.3 L1487.6,1147.1 L1484.7,1149.9 L1481.9,1152.7 L1479.1,1155.6 L1476.2,1158.4 L1473.4,1161.2 L1470.6,1164.0 L1467.7,1166.9 L1464.9,1169.7 L1462.0,1172.5 L1459.2,1175.3 L1456.4,1178.1 L1453.5,1181.0 L1450.7,1183.8 L1447.8,1186.6 L1445.0,1189.4 L1442.1,1192.2 L1439.3,1195.0 L1436.4,1197.8 L1433.6,1200.6 L1430.7,1203.5 L1427.9,1206.3 L1425.0,1209.1 L1422.2,1211.9 L1419.3,1214.7 L1416.5,1217.5 L1413.6,1220.3 L1410.7,1223.1 L1407.9,1225.9 L1405.0,1228.7 L1402.2,1231.5 L1399.3,1234.3 L1396.4,1237.1 L1393.6,1239.9 L1390.7,1242.7 L1387.9,1245.5 L1385.0,1248.3 L1382.1,1251.1 L1379.3,1253.9 L1376.4,1256.7 L1373.5,1259.5 L1370.7,1262.3 L1367.8,1265.1 L1364.9,1267.9 L1362.1,1270.7 L1359.2,1273.5 L1356.3,1276.3 L1353.5,1279.1 L1350.6,1281.9 L1347.7,1284.7 L1344.9,1287.5 L1342.0,1290.3 L1339.1,1293.1 L1336.3,1295.9 L1333.4,1298.7 L1330.5,1301.5 L1327.7,1304.3 L1324.8,1307.1 L1321.9,1309.9 L1319.1,1312.7 L1316.2,1315.5 L1313.3,1318.3 L1310.5,1321.1 L1307.6,1323.9 L1304.7,1326.7 L1301.8,1329.5 L1299.0,1332.3 L1296.1,1335.1 L1293.2,1337.9 L1290.4,1340.7 L1287.5,1343.5 L1284.6,1346.3 L1281.8,1349.1 L1278.9,1351.9 L1276.0,1354.7 L1273.2,1357.5 L1270.3,1360.3 L1267.4,1363.1 L1264.6,1365.9 L1261.7,1368.7 L1258.8,1371.5 L1256.0,1374.3 L1253.1,1377.1 L1250.2,1379.9 L1247.4,1382.7 L1244.5,1385.5 L1241.6,1388.4 L1238.8,1391.2 L1235.9,1394.0 L1233.1,1396.8 L1230.2,1399.6 L1227.3,1402.4 L1224.5,1405.2 L1221.6,1408.0 L1218.8,1410.8 L1215.9,1413.6 L1213.0,1416.5 L1210.2,1419.3 L1207.3,1422.1 L1204.5,1424.9 L1201.6,1427.7 L1198.8,1430.5 L1195.9,1433.4 L1193.1,1436.2 L1190.2,1439.0 L1187.4,1441.8 L1184.5,1444.6 L1181.7,1447.5 L1178.8,1450.3 L1176.0,1453.1 L1173.1,1455.9 L1170.3,1458.8 L1167.4,1461.6 L1164.6,1464.4 L1161.7,1467.3 L1158.9,1470.1 L1156.1,1472.9 L1153.2,1475.8 L1150.4,1478.6 L1147.6,1481.4 L1144.7,1484.3 L1141.9,1487.1 L1139.0,1489.9 L1136.2,1492.8 L1133.4,1495.6 L1130.6,1498.5 L1127.7,1501.3 L1124.9,1504.2 L1122.1,1507.0 L1119.3,1509.9 L1116.4,1512.7 L1113.6,1515.6 L1110.8,1518.4 L1108.0,1521.3 L1105.2,1524.1 L1102.3,1527.0 L1099.5,1529.8 L1096.7,1532.7 L1093.9,1535.6 L1091.1,1538.4 L1088.3,1541.3 L1085.5,1544.2 L1082.7,1547.0 L1079.9,1549.9 L1077.1,1552.8 L1074.3,1555.7 L1071.5,1558.5 L1068.7,1561.4 L1065.9,1564.3 L1063.1,1567.2 L1060.3,1570.0 L1057.5,1572.9 L1054.8,1575.8 L1052.0,1578.7 L1049.2,1581.6 L1046.4,1584.5 L1043.7,1587.4 L1040.9,1590.3 L1038.1,1593.2 L1035.3,1596.1 L1032.6,1599.0 L1029.8,1601.9 L1027.0,1604.8 L1024.3,1607.7 L1021.5,1610.6 L1018.8,1613.5 L1016.0,1616.4 L1013.3,1619.4 L1010.5,1622.3 L1007.8,1625.2 L1005.0,1628.1 L1002.3,1631.0 L999.6,1634.0 L996.8,1636.9 L994.1,1639.8 L991.4,1642.8 L988.6,1645.7 L985.9,1648.6 L983.2,1651.6 L980.5,1654.5 L977.7,1657.5 L975.0,1660.4 L972.3,1663.4 L969.6,1666.3 L966.9,1669.3 L964.2,1672.2 L961.5,1675.2 L958.8,1678.1 L956.1,1681.1 L953.4,1684.1 L950.7,1687.0 L948.0,1690.0 L945.4,1693.0 L942.7,1696.0 L940.0,1698.9 L937.3,1701.9 L934.7,1704.9 L932.0,1707.9 L929.3,1710.9 L926.7,1713.9 L924.0,1716.9 L921.4,1719.9 L918.7,1722.9 L916.1,1725.9 L913.4,1728.9 L910.8,1731.9 L908.2,1734.9 L905.5,1737.9 L902.9,1741.0 L900.3,1744.0 L897.6,1747.0 L895.0,1750.0 L892.4,1753.1 L889.8,1756.1 L887.2,1759.1 L884.6,1762.2 L882.0,1765.2 L879.4,1768.3 L876.8,1771.3 L874.2,1774.3 L871.6,1777.4 L869.0,1780.5 L866.5,1783.5 L863.9,1786.6 L861.3,1789.7 L858.8,1792.7 L856.2,1795.8 L853.6,1798.9 L851.1,1802.0 L848.5,1805.0 L846.0,1808.1 L843.4,1811.2 L840.9,1814.3 L838.4,1817.4 L835.8,1820.5 L833.3,1823.6 L830.8,1826.7 L828.3,1829.8 L825.8,1832.9 L823.3,1836.0 L820.7,1839.2 L818.2,1842.3 L815.8,1845.4 L813.3,1848.5 L810.8,1851.7 L808.3,1854.8 L805.8,1858.0 L803.3,1861.1 L800.9,1864.3 L798.4,1867.4 L795.9,1870.6 L793.5,1873.7 L791.0,1876.9 L788.6,1880.1 L786.2,1883.2 L783.7,1886.4 L781.3,1889.6 L778.9,1892.8 L776.4,1895.9 L774.0,1899.1 L771.6,1902.3 L769.2,1905.5 L766.8,1908.7 L764.4,1911.9 L762.0,1915.1 L759.6,1918.3 L757.2,1921.6 L754.9,1924.8 L752.5,1928.0 L750.1,1931.2 L747.8,1934.5 L745.4,1937.7 L743.1,1941.0 L740.7,1944.2 L738.4,1947.4 L736.0,1950.7 L733.7,1954.0 L731.4,1957.2 L729.1,1960.5 L726.7,1963.8 L724.4,1967.0 L722.1,1970.3 L719.8,1973.6 L717.5,1976.9 L715.2,1980.2 L713.0,1983.5 L710.7,1986.8 L708.4,1990.1 L706.1,1993.4 L703.9,1996.7 L701.6,2000.0" stroke="#ED7D31"/><path d="M327.0,2000.0 L329.7,1997.1 L332.4,1994.1 L335.1,1991.2 L337.8,1988.2 L340.5,1985.2 L343.2,1982.2 L345.8,1979.2 L348.5,1976.2 L351.1,1973.2 L353.8,1970.2 L356.4,1967.2 L359.0,1964.1 L361.6,1961.1 L364.2,1958.0 L366.8,1955.0 L369.4,1951.9 L371.9,1948.8 L374.5,1945.8 L377.0,1942.7 L379.6,1939.6 L382.1,1936.5 L384.6,1933.4 L387.1,1930.3 L389.7,1927.1 L392.2,1924.0 L394.7,1920.9 L397.1,1917.7 L399.6,1914.6 L402.1,1911.5 L404.6,1908.3 L407.0,1905.1 L409.5,1902.0 L411.9,1898.8 L414.4,1895.6 L416.8,1892.4 L419.2,1889.2 L421.7,1886.1 L424.1,1882.9 L426.5,1879.6 L428.9,1876.4 L431.3,1873.2 L433.7,1870.0 L436.1,1866.8 L438.5,1863.6 L440.9,1860.3 L443.3,1857.1 L445.6,1853.9 L448.0,1850.6 L450.4,1847.4 L452.7,1844.1 L455.1,1840.9 L457.4,1837.6 L459.8,1834.4 L462.1,1831.1 L464.5,1827.9 L466.8,1824.6 L469.2,1821.3 L471.5,1818.1 L473.8,1814.8 L476.2,1811.5 L478.5,1808.3 L480.8,1805.0 L483.2,1801.7 L485.5,1798.4 L487.8,1795.1 L490.1,1791.9 L492.4,1788.6 L494.8,1785.3 L497.1,1782.0 L499.4,1778.7 L501.7,1775.4 L504.0,1772.1 L506.3,1768.9 L508.6,1765.6 L511.0,1762.3 L513.3,1759.0 L515.6,1755.7 L517.9,1752.4 L520.2,1749.1 L522.5,1745.8 L524.8,1742.5 L527.1,1739.2 L529.5,1736.0 L531.8,1732.7 L534.1,1729.4 L536.4,1726.1 L538.7,1722.8 L541.1,1719.5 L543.4,1716.3 L545.7,1713.0 L548.0,1709.7 L550.4,1706.4 L552.7,1703.1 L555.0,1699.9 L557.4,1696.6 L559.7,1693.3 L562.0,1690.1 L564.4,1686.8 L566.7,1683.5 L569.1,1680.3 L571.4,1677.0 L573.8,1673.8 L576.2,1670.5 L578.5,1667.3 L580.9,1664.0 L583.3,1660.8 L585.6,1657.6 L588.0,1654.3 L590.4,1651.1 L592.8,1647.9 L595.2,1644.6 L597.6,1641.4 L600.0,1638.2 L602.4,1635.0 L604.9,1631.8 L607.3,1628.6 L609.7,1625.4 L612.1,1622.2 L614.6,1619.0 L617.0,1615.9 L619.5,1612.7 L621.9,1609.5 L624.4,1606.3 L626.9,1603.2 L629.4,1600.0 L631.9,1596.9 L634.4,1593.7 L636.9,1590.6 L639.4,1587.5 L641.9,1584.4 L644.4,1581.2 L646.9,1578.1 L649.5,1575.0 L652.0,1571.9 L654.6,1568.8 L657.2,1565.8 L659.7,1562.7 L662.3,1559.6 L664.9,1556.5 L667.5,1553.5 L670.1,1550.4 L672.7,1547.4 L675.3,1544.4 L677.9,1541.3 L680.6,1538.3 L683.2,1535.3 L685.9,1532.3 L688.5,1529.3 L691.2,1526.3 L693.8,1523.3 L696.5,1520.3 L699.2,1517.3 L701.9,1514.3 L704.6,1511.3 L707.3,1508.4 L710.0,1505.4 L712.7,1502.5 L715.4,1499.5 L718.2,1496.6 L720.9,1493.7 L723.7,1490.7 L726.4,1487.8 L729.2,1484.9 L731.9,1482.0 L734.7,1479.1 L737.5,1476.2 L740.3,1473.3 L743.1,1470.4 L745.9,1467.5 L748.7,1464.7 L751.5,1461.8 L754.3,1458.9 L757.1,1456.1 L759.9,1453.2 L762.8,1450.4 L765.6,1447.6 L768.5,1444.7 L771.3,1441.9 L774.2,1439.1 L777.0,1436.3 L779.9,1433.5 L782.8,1430.7 L785.7,1427.9 L788.6,1425.1 L791.5,1422.3 L794.4,1419.6 L797.3,1416.8 L800.2,1414.0 L803.1,1411.3 L806.0,1408.5 L809.0,1405.8 L811.9,1403.0 L814.9,1400.3 L817.8,1397.6 L820.8,1394.8 L823.7,1392.1 L826.7,1389.4 L829.7,1386.7 L832.6,1384.0 L835.6,1381.3 L838.6,1378.6 L841.6,1375.9 L844.6,1373.3 L847.6,1370.6 L850.6,1367.9 L853.6,1365.3 L856.6,1362.6 L859.7,1360.0 L862.7,1357.3 L865.7,1354.7 L868.8,1352.1 L871.8,1349.4 L874.8,1346.8 L877.9,1344.2 L881.0,1341.6 L884.0,1339.0 L887.1,1336.4 L890.2,1333.8 L893.2,1331.2 L896.3,1328.6 L899.4,1326.1 L902.5,1323.5 L905.6,1320.9 L908.7,1318.4 L911.8,1315.8 L914.9,1313.3 L918.0,1310.7 L921.1,1308.2 L924.2,1305.7 L927.4,1303.1 L930.5,1300.6 L933.6,1298.1 L936.8,1295.6 L939.9,1293.1 L943.1,1290.6 L946.2,1288.1 L949.4,1285.6 L952.5,1283.1 L955.7,1280.7 L958.9,1278.2 L962.0,1275.7 L965.2,1273.3 L968.4,1270.8 L971.6,1268.4 L974.7,1265.9 L977.9,1263.5 L981.1,1261.0 L984.3,1258.6 L987.5,1256.2 L990.7,1253.8 L993.9,1251.4 L997.2,1249.0 L1000.4,1246.6 L1003.6,1244.2 L1006.8,1241.8 L1010.0,1239.4 L1013.3,1237.0 L1016.5,1234.6 L1019.7,1232.3 L1023.0,1229.9 L1026.2,1227.5 L1029.5,1225.2 L1032.7,1222.8 L1036.0,1220.5 L1039.2,1218.1 L1042.5,1215.8 L1045.7,1213.5 L1049.0,1211.1 L1052.3,1208.8 L1055.5,1206.5 L1058.8,1204.2 L1062.1,1201.9 L1065.4,1199.6 L1068.7,1197.3 L1071.9,1195.0 L1075.2,1192.7 L1078.5,1190.4 L1081.8,1188.2 L1085.1,1185.9 L1088.4,1183.6 L1091.7,1181.4 L1095.0,1179.1 L1098.4,1176.9 L1101.7,1174.6 L1105.0,1172.4 L1108.3,1170.1 L1111.6,1167.9 L1115.0,1165.7 L1118.3,1163.4 L1121.6,1161.2 L1125.0,1159.0 L1128.3,1156.8 L1131.7,1154.6 L1135.0,1152.4 L1138.4,1150.2 L1141.7,1148.0 L1145.1,1145.8 L1148.4,1143.7 L1151.8,1141.5 L1155.2,1139.3 L1158.5,1137.1 L1161.9,1135.0 L1165.3,1132.8 L1168.6,1130.7 L1172.0,1128.5 L1175.4,1126.4 L1178.8,1124.3 L1182.2,1122.1 L1185.6,1120.0 L1189.0,1117.9 L1192.4,1115.7 L1195.8,1113.6 L1199.2,1111.5 L1202.6,1109.4 L1206.0,1107.3 L1209.4,1105.2 L1212.8,1103.1 L1216.2,1101.0 L1219.6,1098.9 L1223.1,1096.9 L1226.5,1094.8 L1229.9,1092.7 L1233.3,1090.6 L1236.8,1088.6 L1240.2,1086.5 L1243.6,1084.5 L1247.1,1082.4 L1250.5,1080.4 L1254.0,1078.3 L1257.4,1076.3 L1260.9,1074.3 L1264.3,1072.2 L1267.8,1070.2 L1271.2,1068.2 L1274.7,1066.2 L1278.2,1064.2 L1281.6,1062.2 L1285.1,1060.2 L1288.6,1058.2 L1292.0,1056.2 L1295.5,1054.2 L1299.0,1052.2 L1302.5,1050.2 L1306.0,1048.2 L1309.4,1046.3 L1312.9,1044.3 L1316.4,1042.3 L1319.9,1040.4 L1323.4,1038.4 L1326.9,1036.5 L1330.4,1034.5 L1333.9,1032.6 L1337.4,1030.6 L1340.9,1028.7 L1344.4,1026.7 L1347.9,1024.8 L1351.5,1022.9 L1355.0,1021.0 L1358.5,1019.1 L1362.0,1017.1 L1365.5,1015.2 L1369.1,1013.3 L1372.6,1011.4 L1376.1,1009.5 L1379.7,1007.6 L1383.2,1005.7 L1386.7,1003.9 L1390.3,1002.0 L1393.8,1000.1 L1397.3,998.2 L1400.9,996.3 L1404.4,994.5 L1408.0,992.6 L1411.5,990.8 L1415.1,988.9 L1418.6,987.0 L1422.2,985.2 L1425.8,983.4 L1429.3,981.5 L1432.9,979.7 L1436.5,977.8 L1440.0,976.0 L1443.6,974.2 L1447.2,972.4 L1450.7,970.5 L1454.3,968.7 L1457.9,966.9 L1461.5,965.1 L1465.1,963.3 L1468.6,961.5 L1472.2,959.7 L1475.8,957.9 L1479.4,956.1 L1483.0,954.3 L1486.6,952.5 L1490.2,950.8 L1493.8,949.0 L1497.4,947.2 L1501.0,945.4 L1504.6,943.7 L1508.2,941.9 L1511.8,940.1 L1515.4,938.4 L1519.0,936.6 L1522.6,934.9 L1526.2,933.1 L1529.8,931.4 L1533.5,929.7 L1537.1,927.9 L1540.7,926.2 L1544.3,924.5 L1547.9,922.7 L1551.6,921.0 L1555.2,919.3 L1558.8,917.6 L1562.5,915.9 L1566.1,914.2 L1569.7,912.4 L1573.4,910.7 L1577.0,909.0 L1580.6,907.3 L1584.3,905.7 L1587.9,904.0 L1591.5,902.3 L1595.2,900.6 L1598.8,898.9 L1602.5,897.2 L1606.1,895.6 L1609.8,893.9 L1613.4,892.2 L1617.1,890.5 L1620.7,888.9 L1624.4,887.2 L1628.1,885.6 L1631.7,883.9 L1635.4,882.3 L1639.0,880.6 L1642.7,879.0 L1646.4,877.3 L1650.0,875.7 L1653.7,874.0 L1657.4,872.4 L1661.0,870.8 L1664.7,869.2 L1668.4,867.5 L1672.0,865.9 L1675.7,864.3 L1679.4,862.7 L1683.1,861.1 L1686.8,859.5 L1690.4,857.8 L1694.1,856.2 L1697.8,854.6 L1701.5,853.0 L1705.2,851.4 L1708.9,849.9 L1712.5,848.3 L1716.2,846.7 L1719.9,845.1 L1723.6,843.5 L1727.3,841.9 L1731.0,840.3 L1734.7,838.8 L1738.4,837.2 L1742.1,835.6 L1745.8,834.1 L1749.5,832.5 L1753.2,830.9 L1756.9,829.4 L1760.6,827.8 L1764.3,826.3 L1768.0,824.7 L1771.7,823.2 L1775.4,821.6 L1779.1,820.1 L1782.8,818.5 L1786.5,817.0 L1790.2,815.5 L1793.9,813.9 L1797.6,812.4 L1801.4,810.9 L1805.1,809.3 L1808.8,807.8 L1812.5,806.3 L1816.2,804.8 L1819.9,803.3 L1823.6,801.8 L1827.4,800.2 L1831.1,798.7 L1834.8,797.2 L1838.5,795.7 L1842.2,794.2 L1846.0,792.7 L1849.7,791.2 L1853.4,789.7 L1857.1,788.2 L1860.9,786.7 L1864.6,785.3 L1868.3,783.8 L1872.0,782.3 L1875.8,780.8 L1879.5,779.3 L1883.2,777.8 L1886.9,776.4 L1890.7,774.9 L1894.4,773.4 L1898.1,772.0 L1901.9,770.5 L1905.6,769.0 L1909.3,767.6 L1913.1,766.1 L1916.8,764.6 L1920.5,763.2 L1924.3,761.7 L1928.0,760.3 L1931.7,758.8 L1935.5,757.4 L1939.2,755.9 L1943.0,754.5 L1946.7,753.0 L1950.4,751.6 L1954.2,750.2 L1957.9,748.7 L1961.7,747.3 L1965.4,745.9 L1969.1,744.4 L1972.9,743.0 L1976.6,741.6 L1980.4,740.2 L1984.1,738.7 L1987.8,737.3 L1991.6,735.9 L1995.3,734.5 L1993.4,738.0 L1991.4,741.5 L1989.5,745.0 L1987.5,748.5 L1985.5,752.0 L1983.4,755.5 L1981.4,758.9 L1979.3,762.3 L1977.2,765.8 L1975.1,769.2 L1973.0,772.5 L1970.9,775.9 L1968.7,779.3 L1966.6,782.6 L1964.4,786.0 L1962.2,789.3 L1960.0,792.6 L1957.7,795.9 L1955.5,799.2 L1953.2,802.4 L1950.9,805.7 L1948.6,808.9 L1946.3,812.2 L1944.0,815.4 L1941.7,818.6 L1939.3,821.8 L1936.9,825.0 L1934.6,828.1 L1932.2,831.3 L1929.7,834.5 L1927.3,837.6 L1924.9,840.7 L1922.4,843.8 L1919.9,846.9 L1917.5,850.0 L1915.0,853.1 L1912.4,856.2 L1909.9,859.2 L1907.4,862.3 L1904.8,865.3 L1902.3,868.4 L1899.7,871.4 L1897.1,874.4 L1894.5,877.4 L1891.9,880.4 L1889.3,883.4 L1886.7,886.3 L1884.0,889.3 L1881.4,892.2 L1878.7,895.2 L1876.0,898.1 L1873.4,901.1 L1870.7,904.0 L1868.0,906.9 L1865.2,909.8 L1862.5,912.7 L1859.8,915.6 L1857.0,918.4 L1854.3,921.3 L1851.5,924.2 L1848.7,927.0 L1846.0,929.9 L1843.2,932.7 L1840.4,935.6 L1837.6,938.4 L1834.7,941.2 L1831.9,944.0 L1829.1,946.8 L1826.3,949.6 L1823.4,952.4 L1820.6,955.2 L1817.7,958.0 L1814.8,960.8 L1811.9,963.6 L1809.1,966.3 L1806.2,969.1 L1803.3,971.8 L1800.4,974.6 L1797.5,977.3 L1794.6,980.1 L1791.6,982.8 L1788.7,985.6 L1785.8,988.3 L1782.9,991.0 L1779.9,993.7 L1777.0,996.4 L1774.0,999.2 L1771.1,1001.9 L1768.1,1004.6 L1765.1,1007.3 L1762.2,1010.0 L1759.2,1012.7 L1756.2,1015.3 L1753.2,1018.0 L1750.3,1020.7 L1747.3,1023.4 L1744.3,1026.1 L1741.3,1028.8 L1738.3,1031.4 L1735.3,1034.1 L1732.3,1036.8 L1729.3,1039.4 L1726.3,1042.1 L1723.3,1044.8 L1720.3,1047.4 L1717.3,1050.1 L1714.3,1052.8 L1711.3,1055.4 L1708.2,1058.1 L1705.2,1060.7 L1702.2,1063.4 L1699.2,1066.1 L1696.2,1068.7 L1693.2,1071.4 L1690.1,1074.0 L1687.1,1076.7 L1684.1,1079.3 L1681.1,1082.0 L1678.0,1084.6 L1675.0,1087.3 L1672.0,1089.9 L1669.0,1092.6 L1665.9,1095.2 L1662.9,1097.8 L1659.9,1100.5 L1656.8,1103.1 L1653.8,1105.8 L1650.8,1108.4 L1647.7,1111.0 L1644.7,1113.7 L1641.7,1116.3 L1638.6,1119.0 L1635.6,1121.6 L1632.5,1124.2 L1629.5,1126.9 L1626.5,1129.5 L1623.4,1132.1 L1620.4,1134.8 L1617.3,1137.4 L1614.3,1140.0 L1611.2,1142.6 L1608.2,1145.3 L1605.1,1147.9 L1602.1,1150.5 L1599.0,1153.1 L1596.0,1155.8 L1592.9,1158.4 L1589.9,1161.0 L1586.8,1163.6 L1583.8,1166.3 L1580.7,1168.9 L1577.7,1171.5 L1574.6,1174.1 L1571.6,1176.7 L1568.5,1179.4 L1565.5,1182.0 L1562.4,1184.6 L1559.4,1187.2 L1556.3,1189.8 L1553.3,1192.4 L1550.2,1195.1 L1547.2,1197.7 L1544.1,1200.3 L1541.0,1202.9 L1538.0,1205.5 L1534.9,1208.1 L1531.9,1210.7 L1528.8,1213.4 L1525.8,1216.0 L1522.7,1218.6 L1519.7,1221.2 L1516.6,1223.8 L1513.5,1226.4 L1510.5,1229.0 L1507.4,1231.6 L1504.4,1234.2 L1501.3,1236.8 L1498.3,1239.5 L1495.2,1242.1 L1492.2,1244.7 L1489.1,1247.3 L1486.0,1249.9 L1483.0,1252.5 L1479.9,1255.1 L1476.9,1257.7 L1473.8,1260.3 L1470.8,1262.9 L1467.7,1265.5 L1464.7,1268.1 L1461.6,1270.7 L1458.6,1273.3 L1455.5,1275.9 L1452.4,1278.5 L1449.4,1281.1 L1446.3,1283.8 L1443.3,1286.4 L1440.2,1289.0 L1437.2,1291.6 L1434.1,1294.2 L1431.1,1296.8 L1428.0,1299.4 L1425.0,1302.0 L1421.9,1304.6 L1418.9,1307.2 L1415.8,1309.8 L1412.8,1312.4 L1409.7,1315.0 L1406.7,1317.6 L1403.6,1320.2 L1400.5,1322.8 L1397.5,1325.4 L1394.4,1328.0 L1391.4,1330.6 L1388.3,1333.2 L1385.3,1335.8 L1382.2,1338.4 L1379.2,1341.0 L1376.1,1343.6 L1373.1,1346.2 L1370.0,1348.8 L1367.0,1351.4 L1363.9,1354.0 L1360.9,1356.6 L1357.8,1359.2 L1354.8,1361.8 L1351.7,1364.4 L1348.7,1367.0 L1345.6,1369.6 L1342.6,1372.2 L1339.5,1374.8 L1336.5,1377.4 L1333.4,1380.0 L1330.4,1382.6 L1327.3,1385.2 L1324.3,1387.8 L1321.3,1390.4 L1318.2,1393.0 L1315.2,1395.6 L1312.1,1398.2 L1309.1,1400.8 L1306.0,1403.4 L1303.0,1406.0 L1299.9,1408.6 L1296.9,1411.2 L1293.8,1413.8 L1290.8,1416.4 L1287.7,1419.0 L1284.7,1421.6 L1281.6,1424.2 L1278.6,1426.8 L1275.5,1429.4 L1272.5,1432.0 L1269.4,1434.6 L1266.4,1437.2 L1263.3,1439.8 L1260.3,1442.4 L1257.3,1445.0 L1254.2,1447.6 L1251.2,1450.2 L1248.1,1452.8 L1245.1,1455.4 L1242.0,1458.0 L1239.0,1460.6 L1235.9,1463.2 L1232.9,1465.8 L1229.8,1468.4 L1226.8,1471.0 L1223.7,1473.6 L1220.7,1476.2 L1217.7,1478.8 L1214.6,1481.4 L1211.6,1484.0 L1208.5,1486.6 L1205.5,1489.2 L1202.4,1491.8 L1199.4,1494.4 L1196.3,1497.0 L1193.3,1499.6 L1190.2,1502.3 L1187.2,1504.9 L1184.2,1507.5 L1181.1,1510.1 L1178.1,1512.7 L1175.0,1515.3 L1172.0,1517.9 L1168.9,1520.5 L1165.9,1523.1 L1162.8,1525.7 L1159.8,1528.3 L1156.8,1530.9 L1153.7,1533.5 L1150.7,1536.1 L1147.6,1538.8 L1144.6,1541.4 L1141.5,1544.0 L1138.5,1546.6 L1135.4,1549.2 L1132.4,1551.8 L1129.4,1554.4 L1126.3,1557.0 L1123.3,1559.6 L1120.2,1562.2 L1117.2,1564.9 L1114.1,1567.5 L1111.1,1570.1 L1108.1,1572.7 L1105.0,1575.3 L1102.0,1577.9 L1098.9,1580.5 L1095.9,1583.2 L1092.8,1585.8 L1089.8,1588.4 L1086.7,1591.0 L1083.7,1593.6 L1080.7,1596.2 L1077.6,1598.9 L1074.6,1601.5 L1071.5,1604.1 L1068.5,1606.7 L1065.5,1609.3 L1062.4,1612.0 L1059.4,1614.6 L1056.3,1617.2 L1053.3,1619.8 L1050.3,1622.5 L1047.2,1625.1 L1044.2,1627.7 L1041.1,1630.3 L1038.1,1633.0 L1035.1,1635.6 L1032.0,1638.2 L1029.0,1640.9 L1026.0,1643.5 L1022.9,1646.1 L1019.9,1648.8 L1016.9,1651.4 L1013.9,1654.0 L1010.8,1656.7 L1007.8,1659.3 L1004.8,1662.0 L1001.8,1664.6 L998.8,1667.3 L995.7,1669.9 L992.7,1672.6 L989.7,1675.2 L986.7,1677.9 L983.7,1680.5 L980.7,1683.2 L977.7,1685.9 L974.7,1688.5 L971.7,1691.2 L968.7,1693.9 L965.7,1696.5 L962.7,1699.2 L959.7,1701.9 L956.7,1704.5 L953.7,1707.2 L950.7,1709.9 L947.7,1712.6 L944.7,1715.3 L941.8,1718.0 L938.8,1720.6 L935.8,1723.3 L932.8,1726.0 L929.9,1728.7 L926.9,1731.4 L923.9,1734.1 L921.0,1736.8 L918.0,1739.5 L915.1,1742.3 L912.1,1745.0 L909.2,1747.7 L906.2,1750.4 L903.3,1753.1 L900.3,1755.9 L897.4,1758.6 L894.5,1761.3 L891.5,1764.1 L888.6,1766.8 L885.7,1769.5 L882.8,1772.3 L879.8,1775.0 L876.9,1777.8 L874.0,1780.5 L871.1,1783.3 L868.2,1786.1 L865.3,1788.8 L862.4,1791.6 L859.5,1794.4 L856.6,1797.2 L853.8,1799.9 L850.9,1802.7 L848.0,1805.5 L845.1,1808.3 L842.3,1811.1 L839.4,1813.9 L836.6,1816.7 L833.7,1819.5 L830.9,1822.3 L828.0,1825.1 L825.2,1828.0 L822.3,1830.8 L819.5,1833.6 L816.7,1836.4 L813.9,1839.3 L811.1,1842.1 L808.2,1845.0 L805.4,1847.8 L802.6,1850.7 L799.8,1853.5 L797.1,1856.4 L794.3,1859.3 L791.5,1862.1 L788.7,1865.0 L785.9,1867.9 L783.2,1870.8 L780.4,1873.7 L777.7,1876.6 L774.9,1879.5 L772.2,1882.4 L769.4,1885.3 L766.7,1888.2 L764.0,1891.1 L761.3,1894.0 L758.5,1897.0 L755.8,1899.9 L753.1,1902.9 L750.4,1905.8 L747.7,1908.8 L745.1,1911.7 L742.4,1914.7 L739.7,1917.6 L737.0,1920.6 L734.4,1923.6 L731.7,1926.6 L729.1,1929.6 L726.4,1932.6 L723.8,1935.6 L721.2,1938.6 L718.5,1941.6 L715.9,1944.6 L713.3,1947.6 L710.7,1950.7 L708.1,1953.7 L705.5,1956.8 L702.9,1959.8 L700.4,1962.9 L697.8,1965.9 L695.2,1969.0 L692.7,1972.1 L690.1,1975.1 L687.6,1978.2 L685.0,1981.3 L682.5,1984.4 L680.0,1987.5 L677.5,1990.6 L675.0,1993.7 L672.5,1996.9 L670.0,2000.0" stroke="#00B0F0"/></g><g stroke="#000"><line x1="327" y1="1935.3" x2="347.5" y2="1935.3" stroke-width="5"/><line x1="327" y1="1870.7" x2="347.5" y2="1870.7" stroke-width="5"/><line x1="327" y1="1806.0" x2="347.5" y2="1806.0" stroke-width="5"/><line x1="327" y1="1741.3" x2="347.5" y2="1741.3" stroke-width="5"/><line x1="327" y1="1676.7" x2="355.5" y2="1676.7" stroke-width="6"/><line x1="327" y1="1612.0" x2="347.5" y2="1612.0" stroke-width="5"/><line x1="327" y1="1547.3" x2="347.5" y2="1547.3" stroke-width="5"/><line x1="327" y1="1482.7" x2="347.5" y2="1482.7" stroke-width="5"/><line x1="327" y1="1418.0" x2="347.5" y2="1418.0" stroke-width="5"/><line x1="327" y1="1353.3" x2="355.5" y2="1353.3" stroke-width="6"/><line x1="327" y1="1288.7" x2="347.5" y2="1288.7" stroke-width="5"/><line x1="327" y1="1224.0" x2="347.5" y2="1224.0" stroke-width="5"/><line x1="327" y1="1159.3" x2="347.5" y2="1159.3" stroke-width="5"/><line x1="327" y1="1094.7" x2="347.5" y2="1094.7" stroke-width="5"/><line x1="327" y1="1030.0" x2="355.5" y2="1030.0" stroke-width="6"/><line x1="327" y1="965.3" x2="347.5" y2="965.3" stroke-width="5"/><line x1="327" y1="900.7" x2="347.5" y2="900.7" stroke-width="5"/><line x1="327" y1="836.0" x2="347.5" y2="836.0" stroke-width="5"/><line x1="327" y1="771.3" x2="347.5" y2="771.3" stroke-width="5"/><line x1="327" y1="706.7" x2="355.5" y2="706.7" stroke-width="6"/><line x1="327" y1="642.0" x2="347.5" y2="642.0" stroke-width="5"/><line x1="327" y1="577.3" x2="347.5" y2="577.3" stroke-width="5"/><line x1="327" y1="512.7" x2="347.5" y2="512.7" stroke-width="5"/><line x1="327" y1="448.0" x2="347.5" y2="448.0" stroke-width="5"/><line x1="327" y1="383.3" x2="355.5" y2="383.3" stroke-width="6"/><line x1="327" y1="318.7" x2="347.5" y2="318.7" stroke-width="5"/><line x1="327" y1="254.0" x2="347.5" y2="254.0" stroke-width="5"/><line x1="327" y1="189.3" x2="347.5" y2="189.3" stroke-width="5"/><line x1="327" y1="124.7" x2="347.5" y2="124.7" stroke-width="5"/><line x1="393.6" y1="2000" x2="393.6" y2="1979.5" stroke-width="5"/><line x1="460.2" y1="2000" x2="460.2" y2="1979.5" stroke-width="5"/><line x1="526.8" y1="2000" x2="526.8" y2="1979.5" stroke-width="5"/><line x1="593.4" y1="2000" x2="593.4" y2="1979.5" stroke-width="5"/><line x1="660.0" y1="2000" x2="660.0" y2="1971.5" stroke-width="6"/><line x1="726.6" y1="2000" x2="726.6" y2="1979.5" stroke-width="5"/><line x1="793.2" y1="2000" x2="793.2" y2="1979.5" stroke-width="5"/><line x1="859.8" y1="2000" x2="859.8" y2="1979.5" stroke-width="5"/><line x1="926.4" y1="2000" x2="926.4" y2="1979.5" stroke-width="5"/><line x1="993.0" y1="2000" x2="993.0" y2="1971.5" stroke-width="6"/><line x1="1059.6" y1="2000" x2="1059.6" y2="1979.5" stroke-width="5"/><line x1="1126.2" y1="2000" x2="1126.2" y2="1979.5" stroke-width="5"/><line x1="1192.8" y1="2000" x2="1192.8" y2="1979.5" stroke-width="5"/><line x1="1259.4" y1="2000" x2="1259.4" y2="1979.5" stroke-width="5"/><line x1="1326.0" y1="2000" x2="1326.0" y2="1971.5" stroke-width="6"/><line x1="1392.6" y1="2000" x2="1392.6" y2="1979.5" stroke-width="5"/><line x1="1459.2" y1="2000" x2="1459.2" y2="1979.5" stroke-width="5"/><line x1="1525.8" y1="2000" x2="1525.8" y2="1979.5" stroke-width="5"/><line x1="1592.4" y1="2000" x2="1592.4" y2="1979.5" stroke-width="5"/><line x1="1659.0" y1="2000" x2="1659.0" y2="1971.5" stroke-width="6"/><line x1="1725.6" y1="2000" x2="1725.6" y2="1979.5" stroke-width="5"/><line x1="1792.2" y1="2000" x2="1792.2" y2="1979.5" stroke-width="5"/><line x1="1858.8" y1="2000" x2="1858.8" y2="1979.5" stroke-width="5"/><line x1="1925.4" y1="2000" x2="1925.4" y2="1979.5" stroke-width="5"/><line x1="1992.0" y1="2000" x2="1992.0" y2="1971.5" stroke-width="6"/><line x1="2058.6" y1="2000" x2="2058.6" y2="1979.5" stroke-width="5"/><line x1="2125.2" y1="2000" x2="2125.2" y2="1979.5" stroke-width="5"/><line x1="2191.8" y1="2000" x2="2191.8" y2="1979.5" stroke-width="5"/><line x1="2258.4" y1="2000" x2="2258.4" y2="1979.5" stroke-width="5"/></g><rect x="327" y="59" width="1998" height="1941" fill="none" stroke="#000" stroke-width="13.8"/><g font-family="Liberation Sans, Arial, sans-serif" font-weight="bold" font-size="71" fill="#000"><text x="251" y="2022.5" text-anchor="end" textLength="40.5" lengthAdjust="spacingAndGlyphs">0</text><text x="251" y="1699.2" text-anchor="end" textLength="108" lengthAdjust="spacingAndGlyphs">0.5</text><text x="251" y="1375.8" text-anchor="end" textLength="40.5" lengthAdjust="spacingAndGlyphs">1</text><text x="251" y="1052.5" text-anchor="end" textLength="103" lengthAdjust="spacingAndGlyphs">1.5</text><text x="251" y="729.2" text-anchor="end" textLength="41.5" lengthAdjust="spacingAndGlyphs">2</text><text x="251" y="405.8" text-anchor="end" textLength="105.5" lengthAdjust="spacingAndGlyphs">2.5</text><text x="251" y="82.5" text-anchor="end" textLength="41.5" lengthAdjust="spacingAndGlyphs">3</text><text x="327.5" y="2131" text-anchor="middle" textLength="39.5" lengthAdjust="spacingAndGlyphs">0</text><text x="660.5" y="2131" text-anchor="middle" textLength="85" lengthAdjust="spacingAndGlyphs">20</text><text x="993.5" y="2131" text-anchor="middle" textLength="85" lengthAdjust="spacingAndGlyphs">40</text><text x="1326.5" y="2131" text-anchor="middle" textLength="85" lengthAdjust="spacingAndGlyphs">60</text><text x="1659.5" y="2131" text-anchor="middle" textLength="85" lengthAdjust="spacingAndGlyphs">80</text><text x="1992.5" y="2131" text-anchor="middle" textLength="131" lengthAdjust="spacingAndGlyphs">100</text><text x="2325.5" y="2131" text-anchor="middle" textLength="131" lengthAdjust="spacingAndGlyphs">120</text></g><text font-family="Liberation Sans, Arial, sans-serif" font-weight="bold" font-size="71" x="1326" y="2227" text-anchor="middle" textLength="328" lengthAdjust="spacingAndGlyphs">Strain (%)</text><text font-family="Liberation Sans, Arial, sans-serif" font-weight="bold" font-size="71" transform="translate(86,1032) rotate(-90)" x="0" y="0" text-anchor="middle" textLength="419" lengthAdjust="spacingAndGlyphs">Stress (MPa)</text><line x1="408" y1="127.0" x2="521" y2="127.0" stroke="#7030A0" stroke-width="14" stroke-linecap="round"/><text x="534" y="147.0" font-family="Liberation Sans, Arial, sans-serif" font-size="62" fill="#404040" stroke="#404040" stroke-width="1" textLength="111" lengthAdjust="spacingAndGlyphs">ENR</text><line x1="408" y1="247.8" x2="521" y2="247.8" stroke="#002060" stroke-width="14" stroke-linecap="round"/><text x="534" y="267.8" font-family="Liberation Sans, Arial, sans-serif" font-size="62" fill="#404040" stroke="#404040" stroke-width="1" textLength="145.5" lengthAdjust="spacingAndGlyphs">ENRC</text><line x1="408" y1="368.6" x2="521" y2="368.6" stroke="#00B050" stroke-width="14" stroke-linecap="round"/><text x="534" y="388.6" font-family="Liberation Sans, Arial, sans-serif" font-size="62" fill="#404040" stroke="#404040" stroke-width="1" textLength="297" lengthAdjust="spacingAndGlyphs">ENRC/WHF</text><line x1="408" y1="489.4" x2="521" y2="489.4" stroke="#C00000" stroke-width="14" stroke-linecap="round"/><text x="534" y="509.4" font-family="Liberation Sans, Arial, sans-serif" font-size="62" fill="#404040" stroke="#404040" stroke-width="1" textLength="470.5" lengthAdjust="spacingAndGlyphs">ENRC/WHF/CHG1</text><line x1="408" y1="610.2" x2="521" y2="610.2" stroke="#FFC000" stroke-width="14" stroke-linecap="round"/><text x="534" y="630.2" font-family="Liberation Sans, Arial, sans-serif" font-size="62" fill="#404040" stroke="#404040" stroke-width="1" textLength="471.5" lengthAdjust="spacingAndGlyphs">ENRC/WHF/CHG5</text><line x1="408" y1="731.0" x2="521" y2="731.0" stroke="#ED7D31" stroke-width="14" stroke-linecap="round"/><text x="534" y="751.0" font-family="Liberation Sans, Arial, sans-serif" font-size="62" fill="#404040" stroke="#404040" stroke-width="1" textLength="504" lengthAdjust="spacingAndGlyphs">ENRC/WHF/CHG10</text><line x1="408" y1="851.8" x2="521" y2="851.8" stroke="#00B0F0" stroke-width="14" stroke-linecap="round"/><text x="534" y="871.8" font-family="Liberation Sans, Arial, sans-serif" font-size="62" fill="#404040" stroke="#404040" stroke-width="1" textLength="504" lengthAdjust="spacingAndGlyphs">ENRC/WHF/CHG20</text></svg>
</body></html>
